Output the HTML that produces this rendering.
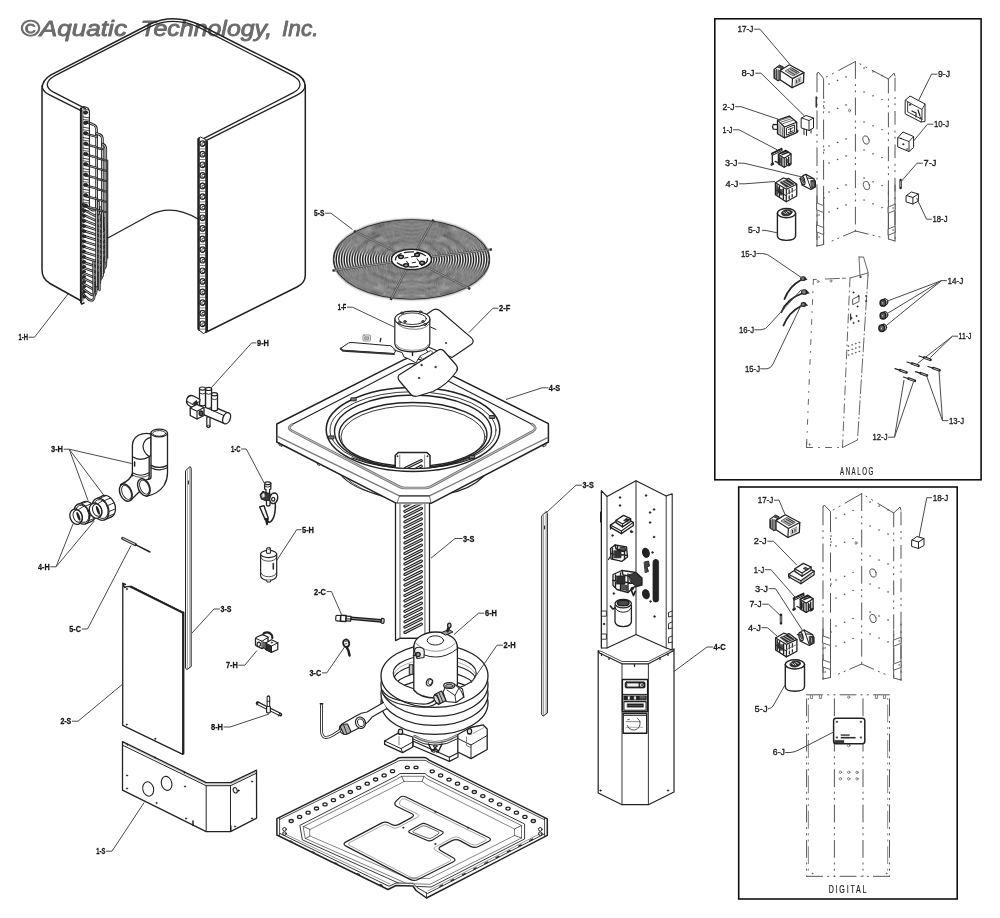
<!DOCTYPE html>
<html lang="en"><head><meta charset="utf-8"><title>Aquatic Technology parts diagram</title>
<style>
html,body{margin:0;padding:0;background:#fff;}
body{width:1000px;height:918px;overflow:hidden;}
svg{display:block;will-change:transform;}
text{font-family:"Liberation Sans",sans-serif;}
.ttl{font-size:22px;font-style:italic;font-weight:normal;fill:#6b6b6b;stroke:#6b6b6b;stroke-width:0.85px;}
.lb{font-size:9.8px;font-weight:bold;fill:#161616;stroke:#161616;stroke-width:0.3px;}
.lj{font-size:9.7px;font-weight:normal;fill:#1c1c1c;stroke:#1c1c1c;stroke-width:0.35px;}
.cap{font-size:10.4px;letter-spacing:2.6px;fill:#222;stroke:#222;stroke-width:0.2px;}
</style></head><body>
<svg width="1000" height="918" viewBox="0 0 1000 918" stroke-linecap="round" stroke-linejoin="round">
<rect x="0" y="0" width="1000" height="918" fill="#fff"/>
<text x="20.6" y="36.2" class="ttl" textLength="106.4" lengthAdjust="spacingAndGlyphs">©Aquatic</text>
<text x="140.6" y="36.2" class="ttl" textLength="131.5" lengthAdjust="spacingAndGlyphs">Technology,</text>
<text x="282" y="36.2" class="ttl" textLength="36.6" lengthAdjust="spacingAndGlyphs">Inc.</text>
<path d="M80.5,300.5 L50,283.5 Q42,279 42,270 L42,89 Q42,80 51,74.8 L150,24 Q174,12.8 200,25 L295,73 Q305.3,78 305.3,87 L305.3,275 Q305.3,283 297,287 L207.5,331.5" stroke="#222" stroke-width="1.5" fill="none" />
<path d="M42,86 Q42.5,91.5 48.5,94.3 L81.5,110.8" stroke="#222" stroke-width="1.4" fill="none" />
<path d="M85.5,108.6 L53.5,92.2 Q46.8,88.5 47.4,84 Q48,79.5 54,76.2 L150,26.8 Q174,15.6 200,27.8 L290.5,74.4 Q300.3,79.3 300,84.5 Q299.6,89.5 293.4,92.7 L203.5,138.7" stroke="#222" stroke-width="1.3" fill="none" />
<path d="M305.3,85 Q305,91.2 297.5,94.8 L205.5,140.8" stroke="#222" stroke-width="1.4" fill="none" />
<path d="M106,239 L150,215 Q172,203.5 198,219" stroke="#222" stroke-width="1.3" fill="none" />
<path d="M83,204.0 L91.6,209.7 Q96.6,211.5 96.6,206.5 L96.6,197.0" stroke="#1c1c1c" stroke-width="2.5" fill="none" />
<path d="M83,204.0 L91.6,209.7 Q96.6,211.5 96.6,206.5 L96.6,197.0" stroke="#cfcfcf" stroke-width="0.8999999999999999" fill="none" />
<path d="M83,209.3 L93.5,215.0 Q98.5,216.8 98.5,211.8 L98.5,202.3" stroke="#1c1c1c" stroke-width="2.5" fill="none" />
<path d="M83,209.3 L93.5,215.0 Q98.5,216.8 98.5,211.8 L98.5,202.3" stroke="#cfcfcf" stroke-width="0.8999999999999999" fill="none" />
<path d="M83,214.6 L95.5,220.3 Q100.5,222.1 100.5,217.1 L100.5,207.6" stroke="#1c1c1c" stroke-width="2.5" fill="none" />
<path d="M83,214.6 L95.5,220.3 Q100.5,222.1 100.5,217.1 L100.5,207.6" stroke="#cfcfcf" stroke-width="0.8999999999999999" fill="none" />
<path d="M83,219.9 L97.4,225.6 Q102.4,227.4 102.4,222.4 L102.4,212.9" stroke="#1c1c1c" stroke-width="2.5" fill="none" />
<path d="M83,219.9 L97.4,225.6 Q102.4,227.4 102.4,222.4 L102.4,212.9" stroke="#cfcfcf" stroke-width="0.8999999999999999" fill="none" />
<path d="M83,225.2 L99.3,230.9 Q104.3,232.7 104.3,227.7 L104.3,218.2" stroke="#1c1c1c" stroke-width="2.5" fill="none" />
<path d="M83,225.2 L99.3,230.9 Q104.3,232.7 104.3,227.7 L104.3,218.2" stroke="#cfcfcf" stroke-width="0.8999999999999999" fill="none" />
<path d="M83,230.5 L101.0,236.2 Q106.0,238.0 106.0,233.0 L106.0,223.5" stroke="#1c1c1c" stroke-width="2.5" fill="none" />
<path d="M83,230.5 L101.0,236.2 Q106.0,238.0 106.0,233.0 L106.0,223.5" stroke="#cfcfcf" stroke-width="0.8999999999999999" fill="none" />
<path d="M83,235.8 L101.0,241.5 Q106.0,243.3 106.0,238.3 L106.0,228.8" stroke="#1c1c1c" stroke-width="2.5" fill="none" />
<path d="M83,235.8 L101.0,241.5 Q106.0,243.3 106.0,238.3 L106.0,228.8" stroke="#cfcfcf" stroke-width="0.8999999999999999" fill="none" />
<path d="M83,241.1 L101.0,246.8 Q106.0,248.6 106.0,243.6 L106.0,234.1" stroke="#1c1c1c" stroke-width="2.5" fill="none" />
<path d="M83,241.1 L101.0,246.8 Q106.0,248.6 106.0,243.6 L106.0,234.1" stroke="#cfcfcf" stroke-width="0.8999999999999999" fill="none" />
<path d="M83,246.4 L101.0,252.1 Q106.0,253.9 106.0,248.9 L106.0,239.4" stroke="#1c1c1c" stroke-width="2.5" fill="none" />
<path d="M83,246.4 L101.0,252.1 Q106.0,253.9 106.0,248.9 L106.0,239.4" stroke="#cfcfcf" stroke-width="0.8999999999999999" fill="none" />
<path d="M83,251.7 L101.0,257.4 Q106.0,259.2 106.0,254.2 L106.0,244.7" stroke="#1c1c1c" stroke-width="2.5" fill="none" />
<path d="M83,251.7 L101.0,257.4 Q106.0,259.2 106.0,254.2 L106.0,244.7" stroke="#cfcfcf" stroke-width="0.8999999999999999" fill="none" />
<path d="M83,257.0 L101.0,262.7 Q106.0,264.5 106.0,259.5 L106.0,250.0" stroke="#1c1c1c" stroke-width="2.5" fill="none" />
<path d="M83,257.0 L101.0,262.7 Q106.0,264.5 106.0,259.5 L106.0,250.0" stroke="#cfcfcf" stroke-width="0.8999999999999999" fill="none" />
<path d="M83,262.3 L100.9,268.0 Q105.9,269.8 105.9,264.8 L105.9,255.3" stroke="#1c1c1c" stroke-width="2.5" fill="none" />
<path d="M83,262.3 L100.9,268.0 Q105.9,269.8 105.9,264.8 L105.9,255.3" stroke="#cfcfcf" stroke-width="0.8999999999999999" fill="none" />
<path d="M83,267.6 L98.9,273.3 Q103.9,275.1 103.9,270.1 L103.9,260.6" stroke="#1c1c1c" stroke-width="2.5" fill="none" />
<path d="M83,267.6 L98.9,273.3 Q103.9,275.1 103.9,270.1 L103.9,260.6" stroke="#cfcfcf" stroke-width="0.8999999999999999" fill="none" />
<path d="M83,272.9 L97.0,278.6 Q102.0,280.4 102.0,275.4 L102.0,265.9" stroke="#1c1c1c" stroke-width="2.5" fill="none" />
<path d="M83,272.9 L97.0,278.6 Q102.0,280.4 102.0,275.4 L102.0,265.9" stroke="#cfcfcf" stroke-width="0.8999999999999999" fill="none" />
<path d="M83,278.2 L95.1,283.9 Q100.1,285.7 100.1,280.7 L100.1,271.2" stroke="#1c1c1c" stroke-width="2.5" fill="none" />
<path d="M83,278.2 L95.1,283.9 Q100.1,285.7 100.1,280.7 L100.1,271.2" stroke="#cfcfcf" stroke-width="0.8999999999999999" fill="none" />
<path d="M83,283.5 L93.1,289.2 Q98.1,291.0 98.1,286.0 L98.1,276.5" stroke="#1c1c1c" stroke-width="2.5" fill="none" />
<path d="M83,283.5 L93.1,289.2 Q98.1,291.0 98.1,286.0 L98.1,276.5" stroke="#cfcfcf" stroke-width="0.8999999999999999" fill="none" />
<path d="M83,288.8 L91.2,294.5 Q96.2,296.3 96.2,291.3 L96.2,281.8" stroke="#1c1c1c" stroke-width="2.5" fill="none" />
<path d="M83,288.8 L91.2,294.5 Q96.2,296.3 96.2,291.3 L96.2,281.8" stroke="#cfcfcf" stroke-width="0.8999999999999999" fill="none" />
<path d="M83,294.1 L89.2,299.8 Q94.2,301.6 94.2,296.6 L94.2,287.1" stroke="#1c1c1c" stroke-width="2.5" fill="none" />
<path d="M83,294.1 L89.2,299.8 Q94.2,301.6 94.2,296.6 L94.2,287.1" stroke="#cfcfcf" stroke-width="0.8999999999999999" fill="none" />
<path d="M86.5,122 L93,124.5 Q96.6,125.5 96.6,130 L96.6,286" stroke="#1c1c1c" stroke-width="2.6" fill="none" />
<path d="M86.5,122 L93,124.5 Q96.6,125.5 96.6,130 L96.6,286" stroke="#cfcfcf" stroke-width="1.0" fill="none" />
<path d="M96.6,133.5 L99.5,134.5 Q102.4,135.5 102.4,139 L102.4,276" stroke="#1c1c1c" stroke-width="2.6" fill="none" />
<path d="M96.6,133.5 L99.5,134.5 Q102.4,135.5 102.4,139 L102.4,276" stroke="#cfcfcf" stroke-width="1.0" fill="none" />
<path d="M102.4,144 Q105.8,145 105.8,149 L105.8,262" stroke="#1c1c1c" stroke-width="2.6" fill="none" />
<path d="M102.4,144 Q105.8,145 105.8,149 L105.8,262" stroke="#cfcfcf" stroke-width="1.0" fill="none" />
<line x1="107.7" y1="160" x2="107.7" y2="258" stroke="#222" stroke-width="1.1" />
<path d="M99.5,215 L99.5,290" stroke="#1c1c1c" stroke-width="2.3" fill="none" />
<path d="M99.5,215 L99.5,290" stroke="#cfcfcf" stroke-width="0.6999999999999997" fill="none" />
<path d="M93.5,262 L93.5,293" stroke="#1c1c1c" stroke-width="2.3" fill="none" />
<path d="M93.5,262 L93.5,293" stroke="#cfcfcf" stroke-width="0.6999999999999997" fill="none" />
<path d="M86.5,134.2 L96.6,136.7" stroke="#1c1c1c" stroke-width="2.3" fill="none" />
<path d="M86.5,134.2 L96.6,136.7" stroke="#cfcfcf" stroke-width="0.6999999999999997" fill="none" />
<path d="M86.5,144.6 L96.6,147.1" stroke="#1c1c1c" stroke-width="2.3" fill="none" />
<path d="M86.5,144.6 L96.6,147.1" stroke="#cfcfcf" stroke-width="0.6999999999999997" fill="none" />
<path d="M97.8,148.1 L102.4,149.1" stroke="#1c1c1c" stroke-width="2.1" fill="none" />
<path d="M97.8,148.1 L102.4,149.1" stroke="#cfcfcf" stroke-width="0.5" fill="none" />
<path d="M86.5,154.9 L96.6,157.4" stroke="#1c1c1c" stroke-width="2.3" fill="none" />
<path d="M86.5,154.9 L96.6,157.4" stroke="#cfcfcf" stroke-width="0.6999999999999997" fill="none" />
<path d="M97.8,158.4 L102.4,159.4" stroke="#1c1c1c" stroke-width="2.1" fill="none" />
<path d="M97.8,158.4 L102.4,159.4" stroke="#cfcfcf" stroke-width="0.5" fill="none" />
<path d="M103.4,159.9 L105.8,160.4" stroke="#1c1c1c" stroke-width="2.0" fill="none" />
<path d="M103.4,159.9 L105.8,160.4" stroke="#cfcfcf" stroke-width="0.3999999999999999" fill="none" />
<path d="M86.5,165.2 L96.6,167.8" stroke="#1c1c1c" stroke-width="2.3" fill="none" />
<path d="M86.5,165.2 L96.6,167.8" stroke="#cfcfcf" stroke-width="0.6999999999999997" fill="none" />
<path d="M97.8,168.8 L102.4,169.8" stroke="#1c1c1c" stroke-width="2.1" fill="none" />
<path d="M97.8,168.8 L102.4,169.8" stroke="#cfcfcf" stroke-width="0.5" fill="none" />
<path d="M103.4,170.2 L105.8,170.8" stroke="#1c1c1c" stroke-width="2.0" fill="none" />
<path d="M103.4,170.2 L105.8,170.8" stroke="#cfcfcf" stroke-width="0.3999999999999999" fill="none" />
<path d="M86.5,175.6 L96.6,178.1" stroke="#1c1c1c" stroke-width="2.3" fill="none" />
<path d="M86.5,175.6 L96.6,178.1" stroke="#cfcfcf" stroke-width="0.6999999999999997" fill="none" />
<path d="M97.8,179.1 L102.4,180.1" stroke="#1c1c1c" stroke-width="2.1" fill="none" />
<path d="M97.8,179.1 L102.4,180.1" stroke="#cfcfcf" stroke-width="0.5" fill="none" />
<path d="M103.4,180.6 L105.8,181.1" stroke="#1c1c1c" stroke-width="2.0" fill="none" />
<path d="M103.4,180.6 L105.8,181.1" stroke="#cfcfcf" stroke-width="0.3999999999999999" fill="none" />
<path d="M86.5,185.9 L96.6,188.4" stroke="#1c1c1c" stroke-width="2.3" fill="none" />
<path d="M86.5,185.9 L96.6,188.4" stroke="#cfcfcf" stroke-width="0.6999999999999997" fill="none" />
<path d="M97.8,189.4 L102.4,190.4" stroke="#1c1c1c" stroke-width="2.1" fill="none" />
<path d="M97.8,189.4 L102.4,190.4" stroke="#cfcfcf" stroke-width="0.5" fill="none" />
<path d="M103.4,190.9 L105.8,191.4" stroke="#1c1c1c" stroke-width="2.0" fill="none" />
<path d="M103.4,190.9 L105.8,191.4" stroke="#cfcfcf" stroke-width="0.3999999999999999" fill="none" />
<path d="M86.5,196.3 L96.6,198.8" stroke="#1c1c1c" stroke-width="2.3" fill="none" />
<path d="M86.5,196.3 L96.6,198.8" stroke="#cfcfcf" stroke-width="0.6999999999999997" fill="none" />
<path d="M97.8,199.8 L102.4,200.8" stroke="#1c1c1c" stroke-width="2.1" fill="none" />
<path d="M97.8,199.8 L102.4,200.8" stroke="#cfcfcf" stroke-width="0.5" fill="none" />
<path d="M103.4,201.3 L105.8,201.8" stroke="#1c1c1c" stroke-width="2.0" fill="none" />
<path d="M103.4,201.3 L105.8,201.8" stroke="#cfcfcf" stroke-width="0.3999999999999999" fill="none" />
<path d="M86.5,206.6 L96.6,209.1" stroke="#1c1c1c" stroke-width="2.3" fill="none" />
<path d="M86.5,206.6 L96.6,209.1" stroke="#cfcfcf" stroke-width="0.6999999999999997" fill="none" />
<path d="M97.8,210.1 L102.4,211.1" stroke="#1c1c1c" stroke-width="2.1" fill="none" />
<path d="M97.8,210.1 L102.4,211.1" stroke="#cfcfcf" stroke-width="0.5" fill="none" />
<path d="M103.4,211.6 L105.8,212.1" stroke="#1c1c1c" stroke-width="2.0" fill="none" />
<path d="M103.4,211.6 L105.8,212.1" stroke="#cfcfcf" stroke-width="0.3999999999999999" fill="none" />
<line x1="80.9" y1="108.5" x2="80.9" y2="302" stroke="#1c1c1c" stroke-width="2.0" />
<line x1="82.9" y1="110" x2="82.9" y2="301" stroke="#222" stroke-width="0.9" />
<line x1="89.4" y1="111" x2="89.4" y2="207" stroke="#222" stroke-width="1.1" />
<path d="M80.5,109 L84,106.5 L88,108 L89.4,111" stroke="#222" stroke-width="1.2" fill="none" />
<ellipse cx="85.6" cy="112.5" rx="2.1" ry="1.7" stroke="#1c1c1c" stroke-width="0.8" fill="#2a2a2a" />
<path d="M83.2,116.9 L89,117.9" stroke="#222" stroke-width="0.9" fill="none" />
<path d="M83.2,109.1 L89,109.9" stroke="#222" stroke-width="0.7" fill="none" />
<ellipse cx="85.6" cy="122.8" rx="2.1" ry="1.7" stroke="#1c1c1c" stroke-width="0.8" fill="#2a2a2a" />
<path d="M83.2,127.2 L89,128.2" stroke="#222" stroke-width="0.9" fill="none" />
<path d="M83.2,119.4 L89,120.2" stroke="#222" stroke-width="0.7" fill="none" />
<ellipse cx="85.6" cy="133.2" rx="2.1" ry="1.7" stroke="#1c1c1c" stroke-width="0.8" fill="#2a2a2a" />
<path d="M83.2,137.6 L89,138.6" stroke="#222" stroke-width="0.9" fill="none" />
<path d="M83.2,129.8 L89,130.6" stroke="#222" stroke-width="0.7" fill="none" />
<ellipse cx="85.6" cy="143.6" rx="2.1" ry="1.7" stroke="#1c1c1c" stroke-width="0.8" fill="#2a2a2a" />
<path d="M83.2,148.0 L89,149.0" stroke="#222" stroke-width="0.9" fill="none" />
<path d="M83.2,140.2 L89,141.0" stroke="#222" stroke-width="0.7" fill="none" />
<ellipse cx="85.6" cy="153.9" rx="2.1" ry="1.7" stroke="#1c1c1c" stroke-width="0.8" fill="#2a2a2a" />
<path d="M83.2,158.3 L89,159.3" stroke="#222" stroke-width="0.9" fill="none" />
<path d="M83.2,150.5 L89,151.3" stroke="#222" stroke-width="0.7" fill="none" />
<ellipse cx="85.6" cy="164.2" rx="2.1" ry="1.7" stroke="#1c1c1c" stroke-width="0.8" fill="#2a2a2a" />
<path d="M83.2,168.7 L89,169.7" stroke="#222" stroke-width="0.9" fill="none" />
<path d="M83.2,160.8 L89,161.7" stroke="#222" stroke-width="0.7" fill="none" />
<ellipse cx="85.6" cy="174.6" rx="2.1" ry="1.7" stroke="#1c1c1c" stroke-width="0.8" fill="#2a2a2a" />
<path d="M83.2,179.0 L89,180.0" stroke="#222" stroke-width="0.9" fill="none" />
<path d="M83.2,171.2 L89,172.0" stroke="#222" stroke-width="0.7" fill="none" />
<ellipse cx="85.6" cy="184.9" rx="2.1" ry="1.7" stroke="#1c1c1c" stroke-width="0.8" fill="#2a2a2a" />
<path d="M83.2,189.3 L89,190.3" stroke="#222" stroke-width="0.9" fill="none" />
<path d="M83.2,181.5 L89,182.3" stroke="#222" stroke-width="0.7" fill="none" />
<ellipse cx="85.6" cy="195.3" rx="2.1" ry="1.7" stroke="#1c1c1c" stroke-width="0.8" fill="#2a2a2a" />
<path d="M83.2,199.7 L89,200.7" stroke="#222" stroke-width="0.9" fill="none" />
<path d="M83.2,191.9 L89,192.7" stroke="#222" stroke-width="0.7" fill="none" />
<ellipse cx="85.6" cy="205.6" rx="2.1" ry="1.7" stroke="#1c1c1c" stroke-width="0.8" fill="#2a2a2a" />
<path d="M83.2,210.0 L89,211.0" stroke="#222" stroke-width="0.9" fill="none" />
<path d="M83.2,202.2 L89,203.0" stroke="#222" stroke-width="0.7" fill="none" />
<ellipse cx="84.1" cy="206.0" rx="1.5" ry="1.3" stroke="#1c1c1c" stroke-width="0.7" fill="#2a2a2a" />
<ellipse cx="84.1" cy="211.1" rx="1.5" ry="1.3" stroke="#1c1c1c" stroke-width="0.7" fill="#2a2a2a" />
<ellipse cx="84.1" cy="216.1" rx="1.5" ry="1.3" stroke="#1c1c1c" stroke-width="0.7" fill="#2a2a2a" />
<ellipse cx="84.1" cy="221.2" rx="1.5" ry="1.3" stroke="#1c1c1c" stroke-width="0.7" fill="#2a2a2a" />
<ellipse cx="84.1" cy="226.2" rx="1.5" ry="1.3" stroke="#1c1c1c" stroke-width="0.7" fill="#2a2a2a" />
<ellipse cx="84.1" cy="231.2" rx="1.5" ry="1.3" stroke="#1c1c1c" stroke-width="0.7" fill="#2a2a2a" />
<ellipse cx="84.1" cy="236.3" rx="1.5" ry="1.3" stroke="#1c1c1c" stroke-width="0.7" fill="#2a2a2a" />
<ellipse cx="84.1" cy="241.3" rx="1.5" ry="1.3" stroke="#1c1c1c" stroke-width="0.7" fill="#2a2a2a" />
<ellipse cx="84.1" cy="246.4" rx="1.5" ry="1.3" stroke="#1c1c1c" stroke-width="0.7" fill="#2a2a2a" />
<ellipse cx="84.1" cy="251.4" rx="1.5" ry="1.3" stroke="#1c1c1c" stroke-width="0.7" fill="#2a2a2a" />
<ellipse cx="84.1" cy="256.5" rx="1.5" ry="1.3" stroke="#1c1c1c" stroke-width="0.7" fill="#2a2a2a" />
<ellipse cx="84.1" cy="261.6" rx="1.5" ry="1.3" stroke="#1c1c1c" stroke-width="0.7" fill="#2a2a2a" />
<ellipse cx="84.1" cy="266.6" rx="1.5" ry="1.3" stroke="#1c1c1c" stroke-width="0.7" fill="#2a2a2a" />
<ellipse cx="84.1" cy="271.6" rx="1.5" ry="1.3" stroke="#1c1c1c" stroke-width="0.7" fill="#2a2a2a" />
<ellipse cx="84.1" cy="276.7" rx="1.5" ry="1.3" stroke="#1c1c1c" stroke-width="0.7" fill="#2a2a2a" />
<ellipse cx="84.1" cy="281.8" rx="1.5" ry="1.3" stroke="#1c1c1c" stroke-width="0.7" fill="#2a2a2a" />
<ellipse cx="84.1" cy="286.8" rx="1.5" ry="1.3" stroke="#1c1c1c" stroke-width="0.7" fill="#2a2a2a" />
<ellipse cx="84.1" cy="291.9" rx="1.5" ry="1.3" stroke="#1c1c1c" stroke-width="0.7" fill="#2a2a2a" />
<ellipse cx="84.1" cy="296.9" rx="1.5" ry="1.3" stroke="#1c1c1c" stroke-width="0.7" fill="#2a2a2a" />
<path d="M80.5,300.5 L81.5,304 L84,303" stroke="#222" stroke-width="1.4" fill="none" />
<path d="M198.2,138.5 L200.5,137 L204,138.6 L207.5,141.5 L207.5,331.5 L203.5,333.5 L198.2,329.5 Z" stroke="#222" stroke-width="1.0" fill="#fff" />
<line x1="198.8" y1="138.5" x2="198.8" y2="329.5" stroke="#222" stroke-width="2.0" />
<line x1="206.4" y1="141" x2="206.4" y2="331.5" stroke="#222" stroke-width="2.4" />
<ellipse cx="202.5" cy="143.6" rx="2.5" ry="2.8" stroke="#222" stroke-width="1.2" fill="#fff" />
<path d="M203.6,142.6 A1.3,1.5 0 1 0 204.3,144.8" stroke="#222" stroke-width="1.0" fill="none" />
<line x1="200" y1="148.9" x2="205" y2="148.9" stroke="#444" stroke-width="0.7" />
<ellipse cx="202.5" cy="154.2" rx="2.5" ry="2.8" stroke="#222" stroke-width="1.2" fill="#fff" />
<path d="M203.6,153.2 A1.3,1.5 0 1 0 204.3,155.4" stroke="#222" stroke-width="1.0" fill="none" />
<line x1="200" y1="159.5" x2="205" y2="159.5" stroke="#444" stroke-width="0.7" />
<ellipse cx="202.5" cy="164.8" rx="2.5" ry="2.8" stroke="#222" stroke-width="1.2" fill="#fff" />
<path d="M203.6,163.8 A1.3,1.5 0 1 0 204.3,166.0" stroke="#222" stroke-width="1.0" fill="none" />
<line x1="200" y1="170.1" x2="205" y2="170.1" stroke="#444" stroke-width="0.7" />
<ellipse cx="202.5" cy="175.4" rx="2.5" ry="2.8" stroke="#222" stroke-width="1.2" fill="#fff" />
<path d="M203.6,174.4 A1.3,1.5 0 1 0 204.3,176.6" stroke="#222" stroke-width="1.0" fill="none" />
<line x1="200" y1="180.7" x2="205" y2="180.7" stroke="#444" stroke-width="0.7" />
<ellipse cx="202.5" cy="186.0" rx="2.5" ry="2.8" stroke="#222" stroke-width="1.2" fill="#fff" />
<path d="M203.6,185.0 A1.3,1.5 0 1 0 204.3,187.2" stroke="#222" stroke-width="1.0" fill="none" />
<line x1="200" y1="191.3" x2="205" y2="191.3" stroke="#444" stroke-width="0.7" />
<ellipse cx="202.5" cy="196.6" rx="2.5" ry="2.8" stroke="#222" stroke-width="1.2" fill="#fff" />
<path d="M203.6,195.6 A1.3,1.5 0 1 0 204.3,197.8" stroke="#222" stroke-width="1.0" fill="none" />
<line x1="200" y1="201.9" x2="205" y2="201.9" stroke="#444" stroke-width="0.7" />
<ellipse cx="202.5" cy="207.2" rx="2.5" ry="2.8" stroke="#222" stroke-width="1.2" fill="#fff" />
<path d="M203.6,206.2 A1.3,1.5 0 1 0 204.3,208.4" stroke="#222" stroke-width="1.0" fill="none" />
<line x1="200" y1="212.5" x2="205" y2="212.5" stroke="#444" stroke-width="0.7" />
<ellipse cx="202.5" cy="217.8" rx="2.5" ry="2.8" stroke="#222" stroke-width="1.2" fill="#fff" />
<path d="M203.6,216.8 A1.3,1.5 0 1 0 204.3,219.0" stroke="#222" stroke-width="1.0" fill="none" />
<line x1="200" y1="223.1" x2="205" y2="223.1" stroke="#444" stroke-width="0.7" />
<ellipse cx="202.5" cy="228.4" rx="2.5" ry="2.8" stroke="#222" stroke-width="1.2" fill="#fff" />
<path d="M203.6,227.4 A1.3,1.5 0 1 0 204.3,229.6" stroke="#222" stroke-width="1.0" fill="none" />
<line x1="200" y1="233.7" x2="205" y2="233.7" stroke="#444" stroke-width="0.7" />
<ellipse cx="202.5" cy="239.0" rx="2.5" ry="2.8" stroke="#222" stroke-width="1.2" fill="#fff" />
<path d="M203.6,238.0 A1.3,1.5 0 1 0 204.3,240.2" stroke="#222" stroke-width="1.0" fill="none" />
<line x1="200" y1="244.3" x2="205" y2="244.3" stroke="#444" stroke-width="0.7" />
<ellipse cx="202.5" cy="249.6" rx="2.5" ry="2.8" stroke="#222" stroke-width="1.2" fill="#fff" />
<path d="M203.6,248.6 A1.3,1.5 0 1 0 204.3,250.8" stroke="#222" stroke-width="1.0" fill="none" />
<line x1="200" y1="254.9" x2="205" y2="254.9" stroke="#444" stroke-width="0.7" />
<ellipse cx="202.5" cy="260.2" rx="2.5" ry="2.8" stroke="#222" stroke-width="1.2" fill="#fff" />
<path d="M203.6,259.2 A1.3,1.5 0 1 0 204.3,261.4" stroke="#222" stroke-width="1.0" fill="none" />
<line x1="200" y1="265.5" x2="205" y2="265.5" stroke="#444" stroke-width="0.7" />
<ellipse cx="202.5" cy="270.8" rx="2.5" ry="2.8" stroke="#222" stroke-width="1.2" fill="#fff" />
<path d="M203.6,269.8 A1.3,1.5 0 1 0 204.3,272.0" stroke="#222" stroke-width="1.0" fill="none" />
<line x1="200" y1="276.1" x2="205" y2="276.1" stroke="#444" stroke-width="0.7" />
<ellipse cx="202.5" cy="281.4" rx="2.5" ry="2.8" stroke="#222" stroke-width="1.2" fill="#fff" />
<path d="M203.6,280.4 A1.3,1.5 0 1 0 204.3,282.6" stroke="#222" stroke-width="1.0" fill="none" />
<line x1="200" y1="286.7" x2="205" y2="286.7" stroke="#444" stroke-width="0.7" />
<ellipse cx="202.5" cy="292.0" rx="2.5" ry="2.8" stroke="#222" stroke-width="1.2" fill="#fff" />
<path d="M203.6,291.0 A1.3,1.5 0 1 0 204.3,293.2" stroke="#222" stroke-width="1.0" fill="none" />
<line x1="200" y1="297.3" x2="205" y2="297.3" stroke="#444" stroke-width="0.7" />
<ellipse cx="202.5" cy="302.6" rx="2.5" ry="2.8" stroke="#222" stroke-width="1.2" fill="#fff" />
<path d="M203.6,301.6 A1.3,1.5 0 1 0 204.3,303.8" stroke="#222" stroke-width="1.0" fill="none" />
<line x1="200" y1="307.9" x2="205" y2="307.9" stroke="#444" stroke-width="0.7" />
<ellipse cx="202.5" cy="313.2" rx="2.5" ry="2.8" stroke="#222" stroke-width="1.2" fill="#fff" />
<path d="M203.6,312.2 A1.3,1.5 0 1 0 204.3,314.4" stroke="#222" stroke-width="1.0" fill="none" />
<line x1="200" y1="318.5" x2="205" y2="318.5" stroke="#444" stroke-width="0.7" />
<ellipse cx="202.5" cy="323.8" rx="2.5" ry="2.8" stroke="#222" stroke-width="1.2" fill="#fff" />
<path d="M203.6,322.8 A1.3,1.5 0 1 0 204.3,325.0" stroke="#222" stroke-width="1.0" fill="none" />
<line x1="200" y1="329.1" x2="205" y2="329.1" stroke="#444" stroke-width="0.7" />
<text class="lb" x="18.5" y="340.1" textLength="9.5" lengthAdjust="spacingAndGlyphs">1-H</text>
<path d="M28.6,337.2 L34.5,337.2 L68,294" stroke="#4a4a4a" stroke-width="1.0" fill="none" stroke-linecap="butt"/>
<ellipse cx="411.5" cy="259.4" rx="78" ry="39.8" stroke="none" stroke-width="0.5" fill="#fff" />
<filter id="fb" x="-5%" y="-5%" width="110%" height="110%"><feGaussianBlur stdDeviation="0.2 0.8"/></filter>
<g filter="url(#fb)">
<g transform="translate(411.5 259.4) scale(1 0.5103)" fill="none" stroke="#1c1c1c" stroke-width="1.45">
<circle cx="0" cy="0" r="20.00"/>
<circle cx="0" cy="0" r="22.64"/>
<circle cx="0" cy="0" r="25.27"/>
<circle cx="0" cy="0" r="27.91"/>
<circle cx="0" cy="0" r="30.55"/>
<circle cx="0" cy="0" r="33.18"/>
<circle cx="0" cy="0" r="35.82"/>
<circle cx="0" cy="0" r="38.45"/>
<circle cx="0" cy="0" r="41.09"/>
<circle cx="0" cy="0" r="43.73"/>
<circle cx="0" cy="0" r="46.36"/>
<circle cx="0" cy="0" r="49.00"/>
<circle cx="0" cy="0" r="51.64"/>
<circle cx="0" cy="0" r="54.27"/>
<circle cx="0" cy="0" r="56.91"/>
<circle cx="0" cy="0" r="59.55"/>
<circle cx="0" cy="0" r="62.18"/>
<circle cx="0" cy="0" r="64.82"/>
<circle cx="0" cy="0" r="67.45"/>
<circle cx="0" cy="0" r="70.09"/>
<circle cx="0" cy="0" r="72.73"/>
<circle cx="0" cy="0" r="75.36"/>
<circle cx="0" cy="0" r="78.00"/>
</g></g>
<ellipse cx="411.5" cy="259.4" rx="78" ry="39.8" stroke="#333" stroke-width="1.0" fill="none" />
<line x1="397.1" y1="252.3" x2="355.2" y2="231.7" stroke="#4a4a4a" stroke-width="2.0" />
<line x1="397.1" y1="252.3" x2="356.1" y2="232.1" stroke="#a8a8a8" stroke-width="0.8" />
<line x1="355.7" y1="231.9" x2="353.9" y2="231" stroke="#333" stroke-width="2.3" stroke-linecap="butt"/>
<line x1="416.9" y1="249.6" x2="432.8" y2="220.9" stroke="#4a4a4a" stroke-width="2.0" />
<line x1="416.9" y1="249.6" x2="432.3" y2="221.8" stroke="#a8a8a8" stroke-width="0.8" />
<line x1="432.5" y1="221.4" x2="433.5" y2="219.6" stroke="#333" stroke-width="2.3" stroke-linecap="butt"/>
<line x1="430.9" y1="257.0" x2="490.5" y2="249.6" stroke="#4a4a4a" stroke-width="2.0" />
<line x1="430.9" y1="257.0" x2="489.5" y2="249.7" stroke="#a8a8a8" stroke-width="0.8" />
<line x1="490.0" y1="249.6" x2="492" y2="249.4" stroke="#333" stroke-width="2.3" stroke-linecap="butt"/>
<line x1="425.7" y1="266.6" x2="469.0" y2="288.3" stroke="#4a4a4a" stroke-width="2.0" />
<line x1="425.7" y1="266.6" x2="468.1" y2="287.9" stroke="#a8a8a8" stroke-width="0.8" />
<line x1="468.5" y1="288.1" x2="470.3" y2="289" stroke="#333" stroke-width="2.3" stroke-linecap="butt"/>
<line x1="406.4" y1="269.3" x2="391.3" y2="298.7" stroke="#4a4a4a" stroke-width="2.0" />
<line x1="406.4" y1="269.3" x2="391.7" y2="297.8" stroke="#a8a8a8" stroke-width="0.8" />
<line x1="391.5" y1="298.2" x2="390.6" y2="300" stroke="#333" stroke-width="2.3" stroke-linecap="butt"/>
<line x1="392.2" y1="262.2" x2="333.9" y2="270.5" stroke="#4a4a4a" stroke-width="2.0" />
<line x1="392.2" y1="262.2" x2="334.9" y2="270.3" stroke="#a8a8a8" stroke-width="0.8" />
<line x1="334.4" y1="270.4" x2="332.4" y2="270.7" stroke="#333" stroke-width="2.3" stroke-linecap="butt"/>
<ellipse cx="411.5" cy="259.4" rx="20" ry="10.2" stroke="#222" stroke-width="1.5" fill="#fff" />
<ellipse cx="411.5" cy="259.4" rx="16" ry="7.6" stroke="#222" stroke-width="1.3" fill="none" stroke-dasharray="9 3.5"/>
<ellipse cx="401.0" cy="256.79999999999995" rx="2.4" ry="1.6" stroke="#1a1a1a" stroke-width="1.5" fill="#aaa" />
<ellipse cx="417.1" cy="254.79999999999998" rx="2.4" ry="1.6" stroke="#1a1a1a" stroke-width="1.5" fill="#aaa" />
<ellipse cx="422.1" cy="262.79999999999995" rx="2.4" ry="1.6" stroke="#1a1a1a" stroke-width="1.5" fill="#aaa" />
<ellipse cx="406.1" cy="265.29999999999995" rx="2.4" ry="1.6" stroke="#1a1a1a" stroke-width="1.5" fill="#aaa" />
<path d="M404.5,258.0 L415.1,256.2 L419.1,261.59999999999997 L408.1,263.59999999999997 Z" stroke="#222" stroke-width="1.0" fill="none" stroke-dasharray="3.5 3.5"/>
<text class="lb" x="314" y="216.1" textLength="10.3" lengthAdjust="spacingAndGlyphs">5-S</text>
<path d="M324.9,213.2 L331,213.2 L352.5,229.5" stroke="#4a4a4a" stroke-width="1.0" fill="none" stroke-linecap="butt"/>
<path d="M340,474 Q352,489 384,496" stroke="#222" stroke-width="1.1" fill="none" />
<path d="M345,477 Q358,490 386,497.5" stroke="#222" stroke-width="0.8" fill="none" />
<path d="M446,494 Q470,490 484,476" stroke="#222" stroke-width="1.1" fill="none" />
<path d="M444,491.5 Q468,487 480,475" stroke="#222" stroke-width="0.8" fill="none" />
<path d="M276.8,424 L404,359.6 Q412,355.6 420,359.6 L548.4,423.6 L548.4,442 L431,503.3 L396.5,503.3 L276.8,442 Z" stroke="#222" stroke-width="1.5" fill="#fff" />
<path d="M277.5,436.4 L399.5,495.8 L429.5,495.8 L547.6,437.6" stroke="#7a7a7a" stroke-width="1.3" fill="none" />
<path d="M399.5,495.8 L429.5,495.8" stroke="#444" stroke-width="1.2" fill="none" />
<line x1="399.5" y1="496" x2="397" y2="503" stroke="#555" stroke-width="0.8" />
<line x1="429.5" y1="496" x2="431" y2="503" stroke="#555" stroke-width="0.8" />
<path d="M279,442.8 L279,445 L282,446.5 L282,444.5" stroke="#222" stroke-width="0.9" fill="none" />
<path d="M546,443 L546,445.5 L543,447 L543,444.8" stroke="#222" stroke-width="0.9" fill="none" />
<path d="M317,462.5 L317.5,464.5 L319.5,465.5" stroke="#222" stroke-width="0.9" fill="none" />
<path d="M292,424.6 L407.5,364.8 Q412,362.5 416.5,364.8 L532,424.2" stroke="#222" stroke-width="1.1" fill="none" />
<path d="M292,424.6 Q286.5,427.6 291.5,430.6 L399,486.5 Q402,488 405,488 L425,488 Q428,488 431,486.5 L533,431.2 Q538,428 532,424.2" stroke="#777" stroke-width="2.7" fill="none" />
<path d="M292,424.6 Q286.5,427.6 291.5,430.6 L399,486.5 Q402,488 405,488 L425,488 Q428,488 431,486.5 L533,431.2 Q538,428 532,424.2" stroke="#c4c4c4" stroke-width="1.0" fill="none" />
<ellipse cx="413" cy="429.4" rx="86.8" ry="42" stroke="#222" stroke-width="1.5" fill="#fff" />
<ellipse cx="413" cy="430.2" rx="83" ry="38.5" stroke="#222" stroke-width="0.9" fill="none" />
<ellipse cx="413" cy="431.6" rx="78.5" ry="36.6" stroke="#222" stroke-width="1.4" fill="none" />
<clipPath id="cpv"><ellipse cx="413" cy="431.6" rx="78.5" ry="36.6"/></clipPath>
<g clip-path="url(#cpv)">
<ellipse cx="413" cy="434.5" rx="74" ry="32" stroke="#222" stroke-width="1.4" fill="none" />
<ellipse cx="413" cy="436.8" rx="72" ry="31" stroke="#222" stroke-width="0.9" fill="none" />
<path d="M395.2,470 L395.2,455.5 L398.2,452.5 L427,452.5 L430,455.5 L430,470" stroke="#222" stroke-width="1.5" fill="#fff" />
<line x1="399.7" y1="455" x2="399.7" y2="469" stroke="#999" stroke-width="1.2" />
<line x1="424.6" y1="455" x2="424.6" y2="469" stroke="#999" stroke-width="1.2" />
<ellipse cx="397.4" cy="456.2" rx="0.6" ry="0.6" stroke="#222" stroke-width="0.4" fill="#222" />
<ellipse cx="427.4" cy="456.2" rx="0.6" ry="0.6" stroke="#222" stroke-width="0.4" fill="#222" />
<path d="M405.6,468.2 L421.2,460.6" stroke="#1e1e1e" stroke-width="3.1" fill="none" />
<path d="M405.6,468.2 L421.2,460.6" stroke="#f4f4f4" stroke-width="0.9" fill="none" />
<path d="M414,470 L421.2,466.2" stroke="#1e1e1e" stroke-width="3.1" fill="none" />
<path d="M414,470 L421.2,466.2" stroke="#f4f4f4" stroke-width="0.9" fill="none" />
</g>
<path d="M352,458 Q380,468.6 413,468.6 Q446,468.6 474,458" stroke="#222" stroke-width="1.3" fill="none" />
<rect x="351.2" y="397.8" width="5" height="3" stroke="#222" stroke-width="0.9" fill="#777" />
<rect x="489.7" y="415.5" width="5" height="3" stroke="#222" stroke-width="0.9" fill="#777" />
<rect x="329.0" y="435.9" width="5" height="3" stroke="#222" stroke-width="0.9" fill="#777" />
<rect x="469.7" y="455.5" width="5" height="3" stroke="#222" stroke-width="0.9" fill="#777" />
<text class="lb" x="548.8" y="390.8" textLength="11.5" lengthAdjust="spacingAndGlyphs">4-S</text>
<path d="M548.4,387.8 L542,387.8 L506,399.5" stroke="#4a4a4a" stroke-width="1.0" fill="none" stroke-linecap="butt"/>
<path d="M424,316 L433,310 Q436.5,307.8 440,310.8 L471.2,337.6 Q475,341.2 471.5,344.3 L452,357.5 L424,345 Z" stroke="#222" stroke-width="1.2" fill="#fff" />
<path d="M340.5,348.5 L348.5,343 Q350,342.3 352,342.5 L391,345.8 L396,350.5 L394,353.5 L343,350.2 Z" stroke="#222" stroke-width="1.0" fill="#fff" />
<path d="M340.5,348.5 L343,350.8 L394,354.2" stroke="#333" stroke-width="1.8" fill="none" />
<path d="M394,350 L402,352.5 L404,357 L410,359.5 L416,363 L419,357.5 L428,352 L425,348" stroke="#222" stroke-width="1.0" fill="#fff" />
<path d="M394.8,319 L394.8,343 Q395,351.5 412.4,351.8 Q429.5,351.5 429.8,343 L429.8,319" stroke="#222" stroke-width="1.2" fill="#fff" />
<path d="M396.5,344.5 Q398,350 412.4,350.3 Q427,350 428.3,344.5" stroke="#666" stroke-width="0.7" fill="none" />
<ellipse cx="412.4" cy="319" rx="17.5" ry="7.8" stroke="#222" stroke-width="1.2" fill="#fff" />
<ellipse cx="412.4" cy="318.7" rx="14" ry="5.8" stroke="#222" stroke-width="0.9" fill="none" />
<path d="M397,323 Q401,329.5 416,329.3 Q426,328.8 429,324" stroke="#555" stroke-width="0.8" fill="none" />
<ellipse cx="399.5" cy="322.5" rx="1.4" ry="1.0" stroke="#222" stroke-width="0.8" fill="#777" />
<ellipse cx="405" cy="321.5" rx="1.4" ry="1.0" stroke="#222" stroke-width="0.8" fill="#777" />
<ellipse cx="423" cy="321.5" rx="1.4" ry="1.0" stroke="#222" stroke-width="0.8" fill="#777" />
<ellipse cx="425" cy="324.5" rx="1.4" ry="1.0" stroke="#222" stroke-width="0.8" fill="#777" />
<ellipse cx="402" cy="313" rx="1.4" ry="1.0" stroke="#222" stroke-width="0.8" fill="#777" />
<ellipse cx="420.5" cy="311.8" rx="1.4" ry="1.0" stroke="#222" stroke-width="0.8" fill="#777" />
<line x1="412.5" y1="352" x2="412.5" y2="355.5" stroke="#222" stroke-width="1.4" />
<line x1="430.5" y1="327" x2="436" y2="329.5" stroke="#222" stroke-width="1.0" />
<path d="M399,375 Q397,378 399.5,381 L411,394.5 Q413.5,397.2 418,396 L433,391.5 Q447,385 456.5,371.5 Q458.5,368.5 456.5,365.5 L444,351 Q441.5,348 438,350.2 Z" stroke="#222" stroke-width="1.2" fill="#fff" />
<ellipse cx="421.5" cy="365" rx="0.8" ry="0.8" stroke="#222" stroke-width="0.6" fill="#222" />
<ellipse cx="435.5" cy="367" rx="0.8" ry="0.8" stroke="#222" stroke-width="0.6" fill="#222" />
<ellipse cx="419" cy="378" rx="0.8" ry="0.8" stroke="#222" stroke-width="0.6" fill="#222" />
<ellipse cx="446" cy="343" rx="0.7" ry="0.7" stroke="#222" stroke-width="0.5" fill="#222" />
<path d="M420,356 L431,350.5 Q434,352 431.5,354 L423,359 Z" stroke="#222" stroke-width="0.8" fill="#fff" />
<rect x="363" y="335" width="7.5" height="6" stroke="#666" stroke-width="0.7" fill="none" rx="1"/>
<rect x="365" y="336.8" width="3.8" height="2.6" stroke="#555" stroke-width="0.6" fill="#bbb" />
<line x1="380.8" y1="338.5" x2="380.2" y2="341.5" stroke="#222" stroke-width="1.3" />
<text class="lb" x="337.8" y="310.1" textLength="8.5" lengthAdjust="spacingAndGlyphs">1-F</text>
<path d="M346.9,307.2 L352.5,307.2 L394.8,327.3" stroke="#4a4a4a" stroke-width="1.0" fill="none" stroke-linecap="butt"/>
<text class="lb" x="499" y="311.1" textLength="11.3" lengthAdjust="spacingAndGlyphs">2-F</text>
<path d="M498.4,308.2 L493,308.2 L469,332.5" stroke="#4a4a4a" stroke-width="1.0" fill="none" stroke-linecap="butt"/>
<path d="M395.5,503.5 L395.5,640.6 L400,638.4 L425,638.4 L429.5,640.6 L429.5,503.5" stroke="#222" stroke-width="1.3" fill="#fff" />
<line x1="400" y1="504.5" x2="400" y2="638.4" stroke="#8a8a8a" stroke-width="1.4" />
<line x1="424.9" y1="504.5" x2="424.9" y2="638.4" stroke="#8a8a8a" stroke-width="1.4" />
<line x1="400" y1="638.4" x2="425" y2="638.4" stroke="#222" stroke-width="1.2" />
<clipPath id="cpl"><rect x="401" y="504.6" width="23" height="133"/></clipPath>
<g clip-path="url(#cpl)">
<path d="M404.9,506.1 L421.4,497.8" stroke="#1e1e1e" stroke-width="3.1" fill="none" />
<path d="M404.9,506.1 L421.4,497.8" stroke="#f4f4f4" stroke-width="0.9" fill="none" />
<path d="M404.9,511.4 L421.4,503.1" stroke="#1e1e1e" stroke-width="3.1" fill="none" />
<path d="M404.9,511.4 L421.4,503.1" stroke="#f4f4f4" stroke-width="0.9" fill="none" />
<path d="M404.9,516.6 L421.4,508.3" stroke="#1e1e1e" stroke-width="3.1" fill="none" />
<path d="M404.9,516.6 L421.4,508.3" stroke="#f4f4f4" stroke-width="0.9" fill="none" />
<path d="M404.9,521.9 L421.4,513.6" stroke="#1e1e1e" stroke-width="3.1" fill="none" />
<path d="M404.9,521.9 L421.4,513.6" stroke="#f4f4f4" stroke-width="0.9" fill="none" />
<path d="M404.9,527.2 L421.4,518.9" stroke="#1e1e1e" stroke-width="3.1" fill="none" />
<path d="M404.9,527.2 L421.4,518.9" stroke="#f4f4f4" stroke-width="0.9" fill="none" />
<path d="M404.9,532.4 L421.4,524.1" stroke="#1e1e1e" stroke-width="3.1" fill="none" />
<path d="M404.9,532.4 L421.4,524.1" stroke="#f4f4f4" stroke-width="0.9" fill="none" />
<path d="M404.9,537.7 L421.4,529.4" stroke="#1e1e1e" stroke-width="3.1" fill="none" />
<path d="M404.9,537.7 L421.4,529.4" stroke="#f4f4f4" stroke-width="0.9" fill="none" />
<path d="M404.9,543.0 L421.4,534.7" stroke="#1e1e1e" stroke-width="3.1" fill="none" />
<path d="M404.9,543.0 L421.4,534.7" stroke="#f4f4f4" stroke-width="0.9" fill="none" />
<path d="M404.9,548.2 L421.4,539.9" stroke="#1e1e1e" stroke-width="3.1" fill="none" />
<path d="M404.9,548.2 L421.4,539.9" stroke="#f4f4f4" stroke-width="0.9" fill="none" />
<path d="M404.9,553.5 L421.4,545.2" stroke="#1e1e1e" stroke-width="3.1" fill="none" />
<path d="M404.9,553.5 L421.4,545.2" stroke="#f4f4f4" stroke-width="0.9" fill="none" />
<path d="M404.9,558.8 L421.4,550.5" stroke="#1e1e1e" stroke-width="3.1" fill="none" />
<path d="M404.9,558.8 L421.4,550.5" stroke="#f4f4f4" stroke-width="0.9" fill="none" />
<path d="M404.9,564.0 L421.4,555.7" stroke="#1e1e1e" stroke-width="3.1" fill="none" />
<path d="M404.9,564.0 L421.4,555.7" stroke="#f4f4f4" stroke-width="0.9" fill="none" />
<path d="M404.9,569.3 L421.4,561.0" stroke="#1e1e1e" stroke-width="3.1" fill="none" />
<path d="M404.9,569.3 L421.4,561.0" stroke="#f4f4f4" stroke-width="0.9" fill="none" />
<path d="M404.9,574.5 L421.4,566.2" stroke="#1e1e1e" stroke-width="3.1" fill="none" />
<path d="M404.9,574.5 L421.4,566.2" stroke="#f4f4f4" stroke-width="0.9" fill="none" />
<path d="M404.9,579.8 L421.4,571.5" stroke="#1e1e1e" stroke-width="3.1" fill="none" />
<path d="M404.9,579.8 L421.4,571.5" stroke="#f4f4f4" stroke-width="0.9" fill="none" />
<path d="M404.9,585.1 L421.4,576.8" stroke="#1e1e1e" stroke-width="3.1" fill="none" />
<path d="M404.9,585.1 L421.4,576.8" stroke="#f4f4f4" stroke-width="0.9" fill="none" />
<path d="M404.9,590.3 L421.4,582.0" stroke="#1e1e1e" stroke-width="3.1" fill="none" />
<path d="M404.9,590.3 L421.4,582.0" stroke="#f4f4f4" stroke-width="0.9" fill="none" />
<path d="M404.9,595.6 L421.4,587.3" stroke="#1e1e1e" stroke-width="3.1" fill="none" />
<path d="M404.9,595.6 L421.4,587.3" stroke="#f4f4f4" stroke-width="0.9" fill="none" />
<path d="M404.9,600.9 L421.4,592.6" stroke="#1e1e1e" stroke-width="3.1" fill="none" />
<path d="M404.9,600.9 L421.4,592.6" stroke="#f4f4f4" stroke-width="0.9" fill="none" />
<path d="M404.9,606.1 L421.4,597.8" stroke="#1e1e1e" stroke-width="3.1" fill="none" />
<path d="M404.9,606.1 L421.4,597.8" stroke="#f4f4f4" stroke-width="0.9" fill="none" />
<path d="M404.9,611.4 L421.4,603.1" stroke="#1e1e1e" stroke-width="3.1" fill="none" />
<path d="M404.9,611.4 L421.4,603.1" stroke="#f4f4f4" stroke-width="0.9" fill="none" />
<path d="M404.9,616.7 L421.4,608.4" stroke="#1e1e1e" stroke-width="3.1" fill="none" />
<path d="M404.9,616.7 L421.4,608.4" stroke="#f4f4f4" stroke-width="0.9" fill="none" />
<path d="M404.9,621.9 L421.4,613.6" stroke="#1e1e1e" stroke-width="3.1" fill="none" />
<path d="M404.9,621.9 L421.4,613.6" stroke="#f4f4f4" stroke-width="0.9" fill="none" />
<path d="M404.9,627.2 L421.4,618.9" stroke="#1e1e1e" stroke-width="3.1" fill="none" />
<path d="M404.9,627.2 L421.4,618.9" stroke="#f4f4f4" stroke-width="0.9" fill="none" />
<path d="M404.9,632.5 L421.4,624.2" stroke="#1e1e1e" stroke-width="3.1" fill="none" />
<path d="M404.9,632.5 L421.4,624.2" stroke="#f4f4f4" stroke-width="0.9" fill="none" />
</g>
<text class="lb" x="463" y="541.5" textLength="11.5" lengthAdjust="spacingAndGlyphs">3-S</text>
<path d="M462.6,538.5 L455,538.5 L431,558.2" stroke="#4a4a4a" stroke-width="1.0" fill="none" stroke-linecap="butt"/>
<path d="M412.8,741 L449.4,757.2 L458,752.8 L458,757 L449.4,761.4 L412.8,745.8 Z" stroke="#222" stroke-width="1.2" fill="#fff" />
<path d="M412.8,745.8 L412.8,741 M449.4,757.2 L449.4,761.4" stroke="#222" stroke-width="1.0" fill="none" />
<path d="M414.6,736.2 Q435,748.5 456.6,735.6" stroke="#555" stroke-width="2.6" fill="none" />
<path d="M414.6,736.2 Q435,748.5 456.6,735.6" stroke="#ddd" stroke-width="0.9" fill="none" />
<path d="M413,739 Q435,752 458,738.5" stroke="#222" stroke-width="1.0" fill="none" />
<path d="M428.5,744 L432,751.5 L435.2,748 L438.4,751.5 L442,744" stroke="#222" stroke-width="1.5" fill="none" />
<ellipse cx="435.2" cy="746.2" rx="1.8" ry="1.3" stroke="#222" stroke-width="1.0" fill="#888" />
<ellipse cx="433.8" cy="752" rx="0.8" ry="0.8" stroke="#222" stroke-width="0.6" fill="none" />
<ellipse cx="436.8" cy="752" rx="0.8" ry="0.8" stroke="#222" stroke-width="0.6" fill="none" />
<path d="M384.6,741 L399,732.6 L412.8,737 L412.8,747 L402.6,752.6 L384.6,744.4 Z" stroke="#222" stroke-width="1.3" fill="#fff" />
<path d="M384.6,741 L401,748.6 L412.8,742 M401,748.6 L402.6,752.6" stroke="#222" stroke-width="1.0" fill="none" />
<path d="M399,736.5 L399,745" stroke="#666" stroke-width="0.8" fill="none" />
<ellipse cx="400.5" cy="731.8" rx="2.2" ry="2.6" stroke="#222" stroke-width="1.2" fill="#ddd" />
<line x1="399" y1="734.5" x2="402" y2="734.5" stroke="#222" stroke-width="1.2" />
<path d="M457.8,734.5 L470.5,727.5 L483,724.8 L487.2,729 L487.2,749.5 L471,758.6 L457.8,752 Z" stroke="#222" stroke-width="1.3" fill="#fff" />
<path d="M457.8,738.5 L471,745 L487.2,735.5 M471,745 L471,758.6" stroke="#222" stroke-width="1.0" fill="none" />
<path d="M466.5,737 L466.5,745.5 L470.5,747.5" stroke="#666" stroke-width="0.8" fill="none" />
<ellipse cx="469.5" cy="731.2" rx="2.2" ry="2.6" stroke="#222" stroke-width="1.2" fill="#ddd" />
<line x1="468" y1="734" x2="471" y2="734" stroke="#222" stroke-width="1.2" />
<path d="M473,733.5 L484,727.5" stroke="#888" stroke-width="0.8" fill="none" />
<ellipse cx="434.5" cy="703" rx="53.5" ry="31.4" stroke="#222" stroke-width="1.3" fill="#fff" />
<ellipse cx="434.5" cy="694" rx="53.5" ry="31.4" stroke="#222" stroke-width="1.3" fill="#fff" />
<ellipse cx="434.5" cy="685" rx="53.5" ry="31.4" stroke="#222" stroke-width="1.3" fill="#fff" />
<ellipse cx="434.5" cy="676" rx="53.5" ry="31.4" stroke="#222" stroke-width="1.3" fill="#fff" />
<ellipse cx="434.7" cy="673" rx="41.5" ry="18" stroke="#222" stroke-width="1.2" fill="#fff" />
<clipPath id="cpc"><ellipse cx="434.7" cy="673" rx="41.5" ry="18"/></clipPath>
<g clip-path="url(#cpc)">
<ellipse cx="434.7" cy="681.2" rx="41.5" ry="18" stroke="#222" stroke-width="1.1" fill="none" />
<ellipse cx="434.7" cy="689.4" rx="41.5" ry="18" stroke="#222" stroke-width="1.1" fill="none" />
<ellipse cx="434.7" cy="697.6" rx="41.5" ry="18" stroke="#222" stroke-width="1.1" fill="none" />
<ellipse cx="434.7" cy="677.2" rx="41.5" ry="18" stroke="#777" stroke-width="0.6" fill="none" />
</g>
<path d="M413.8,646 L413.8,690 Q420,698 436,698 Q452,698 457.4,690 L457.4,646" stroke="#222" stroke-width="1.3" fill="#fff" />
<path d="M413.8,649 Q413.5,641 419,637 Q426,632 435.6,632 Q445,632 452,637 Q457.7,641 457.4,649" stroke="#222" stroke-width="1.3" fill="#fff" />
<path d="M413.8,648.6 Q424,657.2 435.6,657 Q447,657.2 457.4,648.6" stroke="#222" stroke-width="1.0" fill="none" />
<path d="M416,643.5 Q425,651.5 435.6,651.3 Q446,651.5 455.2,643.5" stroke="#666" stroke-width="0.7" fill="none" />
<ellipse cx="435.4" cy="640.4" rx="8.2" ry="4.6" stroke="#222" stroke-width="1.0" fill="none" />
<path d="M441.5,632.5 L449,629.5 L453,632 L446,635 Z" stroke="#222" stroke-width="1.0" fill="#999" />
<path d="M447.5,631 L449,626.5" stroke="#222" stroke-width="2.8" fill="none" />
<ellipse cx="449.3" cy="625.5" rx="1.7" ry="2.3" stroke="#222" stroke-width="1.2" fill="#bbb" />
<path d="M414.5,651 Q415,646.8 419.5,647.3 Q424.5,648 424.3,652 L424,657.5 L417,658.5 Z" stroke="#222" stroke-width="1.1" fill="#eee" />
<ellipse cx="418" cy="654.5" rx="2.2" ry="2.2" stroke="#222" stroke-width="1.2" fill="#999" />
<line x1="413.5" y1="655.5" x2="416" y2="655" stroke="#222" stroke-width="1.6" />
<rect x="409.3" y="664.8" width="3.6" height="9.5" stroke="#222" stroke-width="1.1" fill="#eee" />
<line x1="411" y1="665.5" x2="411" y2="673.5" stroke="#666" stroke-width="0.6" />
<ellipse cx="429.5" cy="682.3" rx="3.0" ry="3.7" stroke="#222" stroke-width="1.1" fill="#fff" transform="rotate(25 429.5 682.3)"/>
<ellipse cx="430.2" cy="682.0" rx="2.0" ry="2.7" stroke="#222" stroke-width="0.8" fill="none" transform="rotate(25 430.2 682)"/>
<path d="M443,692 L446,686 Q449,683 456,685 L462.5,689 L464,697 L456,702.5 L446,701.5 Z" stroke="#222" stroke-width="1.1" fill="#fff" />
<ellipse cx="449.3" cy="685.6" rx="5.6" ry="2.9" stroke="#222" stroke-width="1.2" fill="#ddd" />
<ellipse cx="449.3" cy="685.9" rx="3.8" ry="1.6" stroke="#222" stroke-width="0.8" fill="#aaa" />
<path d="M447,690 L455,695.5 L459,688 M455,695.5 L456,702.5" stroke="#222" stroke-width="0.9" fill="none" />
<path d="M456.5,686 Q462,690 463.5,697" stroke="#222" stroke-width="1.0" fill="none" />
<path d="M434.5,694.5 L441.5,691 L446,700.5 L438.5,704.5 Z" stroke="#222" stroke-width="1.1" fill="#bbb" />
<path d="M436.5,693.5 L440.5,703.5 M438.8,692.5 L443,702" stroke="#222" stroke-width="0.9" fill="none" />
<ellipse cx="436.5" cy="699.5" rx="2.0" ry="4.6" stroke="#222" stroke-width="1.2" fill="#ddd" transform="rotate(-25 436.5 699.5)"/>
<path d="M382.5,690.5 Q386,697 398,700 Q415,704.5 426,704 Q431,703.5 434.5,700" stroke="#222" stroke-width="1.2" fill="none" />
<path d="M383,694 Q388,700.5 398,703.5 Q415,708 427,707 Q433,706 437,703" stroke="#222" stroke-width="1.2" fill="none" />
<path d="M383.5,702.5 L367,712 Q361,712.5 356,716 L342,724 Q338,727.5 340,731.5 Q343,735.5 348,733.5 L362,726.5 Q369,722 372,717 L386.5,708.8" stroke="#222" stroke-width="1.2" fill="#fff" />
<ellipse cx="360.5" cy="722.7" rx="4.9" ry="5.8" stroke="#222" stroke-width="1.2" fill="#fff" transform="rotate(-20 360.5 722.7)"/>
<ellipse cx="360.8" cy="722.7" rx="3.1" ry="4.0" stroke="#222" stroke-width="0.9" fill="none" transform="rotate(-20 360.8 722.7)"/>
<path d="M340,726.5 Q343,723.5 347.5,724 L351,731.5 Q348.5,734.5 344,734.5 Z" stroke="#222" stroke-width="1.1" fill="#aaa" />
<path d="M343.5,724.5 L346.8,733.8" stroke="#222" stroke-width="0.9" fill="none" />
<path d="M340,730.5 L333,735 Q327,738.5 324,737 Q321.5,735.5 321.5,730 L321.5,704.5" stroke="#222" stroke-width="2.9" fill="none" />
<path d="M340,730.5 L333,735 Q327,738.5 324,737 Q321.5,735.5 321.5,730 L321.5,704.5" stroke="#fff" stroke-width="1.2" fill="none" />
<line x1="320.3" y1="703.8" x2="322.7" y2="703.8" stroke="#222" stroke-width="1.5" />
<text class="lb" x="485" y="616.1" textLength="12" lengthAdjust="spacingAndGlyphs">6-H</text>
<path d="M484.4,613.2 L478.5,613.2 L454,634.5" stroke="#4a4a4a" stroke-width="1.0" fill="none" stroke-linecap="butt"/>
<text class="lb" x="503.5" y="648.1" textLength="12.1" lengthAdjust="spacingAndGlyphs">2-H</text>
<path d="M502.9,645.2 L497,645.2 L471,683" stroke="#4a4a4a" stroke-width="1.0" fill="none" stroke-linecap="butt"/>
<path d="M276.9,818.6 L395.8,759.8 Q398,757.6 402,757.6 L424,757.6 Q427,757.8 428.5,759.8 L547.3,818.8 L547.3,835.4 L426.5,898 L416,890.5 L413,886 L396,885.5 L388,889.5 L276.9,835 Z" stroke="#222" stroke-width="1.5" fill="#fff" />
<line x1="279.6" y1="817.5" x2="279.6" y2="836" stroke="#222" stroke-width="0.8" />
<line x1="544.6" y1="817.7" x2="544.6" y2="836.5" stroke="#222" stroke-width="0.8" />
<path d="M279.6,819.5 L396.5,762 Q398.5,760.3 402,760.3 L424,760.3 Q426.5,760.3 428,762 L544.6,819.8" stroke="#222" stroke-width="0.8" fill="none" />
<path d="M279.6,833.3 L389,886.3 L396,883 L413,883.3 L417,887.5 L427.5,893.5 L544.6,833.8" stroke="#222" stroke-width="0.9" fill="none" />
<path d="M283,833 L390,884 M428,891 L541,833.2" stroke="#555" stroke-width="0.6" fill="none" />
<line x1="426.5" y1="892.5" x2="426.5" y2="898" stroke="#222" stroke-width="0.8" />
<line x1="440.0" y1="886.5" x2="442.5" y2="885.2" stroke="#333" stroke-width="1.6" />
<line x1="451.2" y1="880.8" x2="453.8" y2="879.5" stroke="#333" stroke-width="1.6" />
<line x1="462.5" y1="875.0" x2="465.0" y2="873.7" stroke="#333" stroke-width="1.6" />
<line x1="473.8" y1="869.2" x2="476.2" y2="868.0" stroke="#333" stroke-width="1.6" />
<line x1="485.0" y1="863.5" x2="487.5" y2="862.2" stroke="#333" stroke-width="1.6" />
<line x1="496.2" y1="857.8" x2="498.8" y2="856.5" stroke="#333" stroke-width="1.6" />
<line x1="507.5" y1="852.0" x2="510.0" y2="850.7" stroke="#333" stroke-width="1.6" />
<line x1="518.8" y1="846.2" x2="521.2" y2="845.0" stroke="#333" stroke-width="1.6" />
<line x1="530.0" y1="840.5" x2="532.5" y2="839.2" stroke="#333" stroke-width="1.6" />
<line x1="290.0" y1="841.0" x2="292.0" y2="842.0" stroke="#333" stroke-width="1.4" />
<line x1="312.5" y1="851.9" x2="314.5" y2="852.9" stroke="#333" stroke-width="1.4" />
<line x1="335.0" y1="862.8" x2="337.0" y2="863.8" stroke="#333" stroke-width="1.4" />
<line x1="357.5" y1="873.6" x2="359.5" y2="874.6" stroke="#333" stroke-width="1.4" />
<line x1="380.0" y1="884.5" x2="382.0" y2="885.5" stroke="#333" stroke-width="1.4" />
<clipPath id="cpb"><path d="M279.6,819.5 L396.5,762 L428,762 L544.6,819.8 L544.6,833.8 L427.5,893.5 L417,887.5 L413,883.3 L396,883 L389,886.3 L279.6,833.3 Z"/></clipPath>
<g clip-path="url(#cpb)">
<path d="M300.2,825.2 L396.6,776 L400,773.5 L425,773.5 L427.9,776 L524.6,824 L524.6,839 L431,887 L405,886 L302.7,840 Z" stroke="#222" stroke-width="0.9" fill="none" />
<path d="M303.5,826.5 L397.5,778.8 L401.5,776.3 L424,776.3 L427,778.8 L521.5,825.5 L521.5,838 L430,884.3 L406.5,883.5 L305.5,838.5 Z" stroke="#444" stroke-width="0.7" fill="none" />
<path d="M310,829.5 L398.5,784.5 L404,781.5 L422,781.5 L426,784.5 L514.5,829 L514.5,835.5 L429.5,878.5 L407.5,878 L310,836 Z" stroke="#555" stroke-width="0.7" fill="none" />
<path d="M303.5,826.5 L310,829.5" stroke="#222" stroke-width="0.7" fill="none" />
<path d="M305.5,838.5 L310,836" stroke="#222" stroke-width="0.7" fill="none" />
<path d="M521.5,825.5 L514.5,829" stroke="#222" stroke-width="0.7" fill="none" />
<path d="M521.5,838 L514.5,835.5" stroke="#222" stroke-width="0.7" fill="none" />
<path d="M401.5,776.3 L404,781.5" stroke="#222" stroke-width="0.7" fill="none" />
<path d="M424,776.3 L422,781.5" stroke="#222" stroke-width="0.7" fill="none" />
</g>
<ellipse cx="291.2" cy="821.0" rx="2.1" ry="1.5" stroke="#222" stroke-width="1.3" fill="none" />
<ellipse cx="299.6" cy="816.9" rx="2.1" ry="1.5" stroke="#222" stroke-width="1.3" fill="none" />
<ellipse cx="308.1" cy="812.7" rx="2.1" ry="1.5" stroke="#222" stroke-width="1.3" fill="none" />
<ellipse cx="316.5" cy="808.5" rx="2.1" ry="1.5" stroke="#222" stroke-width="1.3" fill="none" />
<ellipse cx="325.0" cy="804.4" rx="2.1" ry="1.5" stroke="#222" stroke-width="1.3" fill="none" />
<ellipse cx="333.4" cy="800.2" rx="2.1" ry="1.5" stroke="#222" stroke-width="1.3" fill="none" />
<ellipse cx="341.9" cy="796.1" rx="2.1" ry="1.5" stroke="#222" stroke-width="1.3" fill="none" />
<ellipse cx="350.3" cy="792.0" rx="2.1" ry="1.5" stroke="#222" stroke-width="1.3" fill="none" />
<ellipse cx="358.7" cy="787.8" rx="2.1" ry="1.5" stroke="#222" stroke-width="1.3" fill="none" />
<ellipse cx="367.2" cy="783.7" rx="2.1" ry="1.5" stroke="#222" stroke-width="1.3" fill="none" />
<ellipse cx="375.6" cy="779.5" rx="2.1" ry="1.5" stroke="#222" stroke-width="1.3" fill="none" />
<ellipse cx="384.1" cy="775.4" rx="2.1" ry="1.5" stroke="#222" stroke-width="1.3" fill="none" />
<ellipse cx="392.5" cy="771.2" rx="2.1" ry="1.5" stroke="#222" stroke-width="1.3" fill="none" />
<ellipse cx="432.2" cy="771.3" rx="2.1" ry="1.5" stroke="#222" stroke-width="1.3" fill="none" />
<ellipse cx="440.6" cy="775.4" rx="2.1" ry="1.5" stroke="#222" stroke-width="1.3" fill="none" />
<ellipse cx="449.0" cy="779.6" rx="2.1" ry="1.5" stroke="#222" stroke-width="1.3" fill="none" />
<ellipse cx="457.5" cy="783.7" rx="2.1" ry="1.5" stroke="#222" stroke-width="1.3" fill="none" />
<ellipse cx="465.9" cy="787.9" rx="2.1" ry="1.5" stroke="#222" stroke-width="1.3" fill="none" />
<ellipse cx="474.3" cy="792.0" rx="2.1" ry="1.5" stroke="#222" stroke-width="1.3" fill="none" />
<ellipse cx="482.8" cy="796.1" rx="2.1" ry="1.5" stroke="#222" stroke-width="1.3" fill="none" />
<ellipse cx="491.2" cy="800.3" rx="2.1" ry="1.5" stroke="#222" stroke-width="1.3" fill="none" />
<ellipse cx="499.6" cy="804.4" rx="2.1" ry="1.5" stroke="#222" stroke-width="1.3" fill="none" />
<ellipse cx="508.0" cy="808.6" rx="2.1" ry="1.5" stroke="#222" stroke-width="1.3" fill="none" />
<ellipse cx="516.4" cy="812.7" rx="2.1" ry="1.5" stroke="#222" stroke-width="1.3" fill="none" />
<ellipse cx="524.9" cy="816.9" rx="2.1" ry="1.5" stroke="#222" stroke-width="1.3" fill="none" />
<ellipse cx="533.3" cy="821.0" rx="2.1" ry="1.5" stroke="#222" stroke-width="1.3" fill="none" />
<ellipse cx="407.3" cy="767.4" rx="2.1" ry="1.3" stroke="#222" stroke-width="1.3" fill="none" />
<ellipse cx="416" cy="767.4" rx="2.1" ry="1.3" stroke="#222" stroke-width="1.3" fill="none" />
<ellipse cx="284.5" cy="829.3" rx="1.8" ry="1.8" stroke="#222" stroke-width="1.0" fill="none" />
<ellipse cx="284.5" cy="833.6" rx="1.8" ry="1.8" stroke="#222" stroke-width="1.0" fill="none" />
<ellipse cx="540.3" cy="829.3" rx="1.8" ry="1.8" stroke="#222" stroke-width="1.0" fill="none" />
<ellipse cx="540.3" cy="833.7" rx="1.8" ry="1.8" stroke="#222" stroke-width="1.0" fill="none" />
<path d="M398.9,798.3 Q402,795 406.0,797.0 L488.5,837.5 Q492.5,839.5 488.5,841.5 L478.5,846.5 Q474.5,848.5 470.5,846.4 L460.0,840.6 Q456,838.5 452.0,840.6 L441.0,846.4 Q437,848.5 440.9,850.7 L453.1,857.8 Q457,860 453.0,862.0 L418.0,879.5 Q414,881.5 410.0,879.4 L346.0,846.1 Q342,844 346.0,841.9 L381.5,823.1 Q385.5,821 389.4,823.3 L391.1,824.2 Q395,826.5 399.0,824.4 L411.5,817.6 Q415.5,815.5 411.5,813.5 L397.0,806.5 Q393,804.5 396.1,801.2 Z" stroke="#222" stroke-width="1.2" fill="none" />
<path d="M400.4,800.6 Q402.3,797.6 405.4,799.1 L484.4,838.0 Q487.5,839.5 484.4,841.1 L477.6,844.4 Q474.5,846 471.4,844.3 L459.1,837.7 Q456,836 452.9,837.6 L435.6,846.9 Q432.5,848.5 435.5,850.3 L449.3,858.2 Q452.3,860 449.2,861.6 L417.1,877.4 Q414,879 410.9,877.4 L350.1,845.6 Q347,844 350.1,842.4 L382.4,825.3 Q385.5,823.7 388.5,825.5 L392.0,827.4 Q395,829.2 398.1,827.5 L417.4,817.2 Q420.5,815.5 417.4,814.0 L401.1,806.0 Q398,804.5 399.9,801.5 Z" stroke="#666" stroke-width="0.6" fill="none" />
<path d="M410.1,832.9 Q407.3,831.7 409.9,830.2 L420.8,824.2 Q423.4,822.7 426.1,824.0 L441.8,831.2 Q444.5,832.5 442.0,834.1 L432.7,840.0 Q430.2,841.6 427.4,840.4 Z" stroke="#222" stroke-width="1.1" fill="none" />
<path d="M413.8,832.7 Q411.5,831.8 413.7,830.6 L421.4,826.4 Q423.6,825.2 425.9,826.2 L438.0,831.6 Q440.3,832.6 438.2,833.9 L432.1,837.7 Q430,839 427.7,838.1 Z" stroke="#222" stroke-width="0.7" fill="none" />
<ellipse cx="435.3" cy="811.8" rx="0.7" ry="0.7" stroke="#222" stroke-width="0.5" fill="#222" />
<ellipse cx="403.3" cy="827.7" rx="0.7" ry="0.7" stroke="#222" stroke-width="0.5" fill="#222" />
<ellipse cx="468" cy="827.7" rx="0.7" ry="0.7" stroke="#222" stroke-width="0.5" fill="#222" />
<ellipse cx="435.3" cy="844" rx="0.7" ry="0.7" stroke="#222" stroke-width="0.5" fill="#222" />
<path d="M132.4,476 L132.4,445 Q133,435.8 142.5,433.8 Q147,433 151,434 L151,455 L149.2,457 L149.2,477 Q148,484 141,490 L130.5,500.5 L120.5,484.5 Q131,480 132.4,473 Z" stroke="#222" stroke-width="1.3" fill="#fff" />
<path d="M151,437.3 Q144,438.5 143,446 Q143.2,452.5 149.2,456.5" stroke="#222" stroke-width="1.2" fill="none" />
<path d="M132.4,456.8 Q140.5,461.8 149.2,456.8" stroke="#222" stroke-width="1.2" fill="none" />
<path d="M132.4,472.8 Q140.5,477.6 149.2,472.8" stroke="#222" stroke-width="1.1" fill="none" />
<path d="M132.4,475 Q140.5,479.8 149.2,475" stroke="#222" stroke-width="0.8" fill="none" />
<line x1="134.6" y1="462" x2="134.6" y2="466" stroke="#222" stroke-width="1.5" />
<path d="M151,433 L151,477.5 Q150.5,479.3 147.5,479.3 L139,483.5 L146.5,496.3 Q158,494 164,485.5 Q167.5,479.5 167.5,473 L167.5,433 Z" stroke="#222" stroke-width="1.3" fill="#fff" />
<ellipse cx="159.2" cy="433" rx="8.25" ry="3.9" stroke="#222" stroke-width="1.3" fill="#fff" />
<ellipse cx="159.2" cy="433.4" rx="6.5" ry="2.8" stroke="#222" stroke-width="0.9" fill="none" />
<path d="M151,465.3 Q159,469.5 167.5,465.3" stroke="#222" stroke-width="1.3" fill="none" />
<path d="M151,467.8 Q159,472 167.5,467.8" stroke="#222" stroke-width="1.1" fill="none" />
<ellipse cx="143.9" cy="487.3" rx="5.7" ry="9.0" stroke="#222" stroke-width="1.4" fill="#fff" transform="rotate(-24 143.9 487.3)"/>
<ellipse cx="144.5" cy="487.1" rx="4.3" ry="7.4" stroke="#222" stroke-width="0.9" fill="none" transform="rotate(-24 144.5 487.1)"/>
<ellipse cx="125.8" cy="492.6" rx="5.8" ry="9.0" stroke="#222" stroke-width="1.4" fill="#fff" transform="rotate(-24 125.8 492.6)"/>
<ellipse cx="126.5" cy="492.4" rx="4.3" ry="7.4" stroke="#222" stroke-width="0.9" fill="none" transform="rotate(-24 126.5 492.4)"/>
<text class="lb" x="51" y="452.1" textLength="12" lengthAdjust="spacingAndGlyphs">3-H</text>
<path d="M63.6,449.2 L69.2,449.2 L131.7,463.5" stroke="#4a4a4a" stroke-width="1.0" fill="none" stroke-linecap="butt"/>
<path d="M69.2,449.2 L88.2,500.8" stroke="#4a4a4a" stroke-width="1.0" fill="none" stroke-linecap="butt"/>
<path d="M69.2,449.2 L105.7,497.8" stroke="#4a4a4a" stroke-width="1.0" fill="none" stroke-linecap="butt"/>
<ellipse cx="87.8" cy="511.6" rx="7.5" ry="10.5" stroke="#222" stroke-width="1.2" fill="#fff" transform="rotate(-20 87.8 511.6)"/>
<path d="M78.2,504.1 L84.2,501.7 L91.4,521.5 L85.4,523.9 Z" stroke="none" stroke-width="0.1" fill="#fff" />
<path d="M78.2,504.1 L84.2,501.7 M85.4,523.9 L91.4,521.5" stroke="#222" stroke-width="1.2" fill="none" />
<line x1="81.2" y1="503.9" x2="87.2" y2="501.5" stroke="#333" stroke-width="1.0" />
<line x1="85.4" y1="506.1" x2="91.4" y2="503.7" stroke="#333" stroke-width="1.0" />
<line x1="88.5" y1="510.7" x2="94.5" y2="508.3" stroke="#333" stroke-width="1.0" />
<line x1="89.7" y1="516.2" x2="95.7" y2="513.8" stroke="#333" stroke-width="1.0" />
<line x1="88.7" y1="520.7" x2="94.7" y2="518.3" stroke="#333" stroke-width="1.0" />
<ellipse cx="81.8" cy="514" rx="7.5" ry="10.5" stroke="#222" stroke-width="1.3" fill="#fff" transform="rotate(-20 81.8 514)"/>
<ellipse cx="82.4" cy="513.8" rx="6.2" ry="8.9" stroke="#222" stroke-width="0.9" fill="none" transform="rotate(-20 82.4 513.8)"/>
<path d="M78.8,509.4 L84.8,505.6" stroke="#222" stroke-width="0.9" fill="none" />
<ellipse cx="76.1" cy="516.7" rx="6.0" ry="7.9" stroke="#222" stroke-width="1.3" fill="#fff" transform="rotate(-20 76.1 516.7)"/>
<ellipse cx="77.7" cy="516.1" rx="4.4" ry="6.3" stroke="#222" stroke-width="1.0" fill="none" transform="rotate(-20 77.7 516.1)"/>
<ellipse cx="78.4" cy="516.3" rx="1.3" ry="4.6" stroke="none" stroke-width="0.1" fill="#222" transform="rotate(-20 78.4 516.3)"/>
<ellipse cx="108.6" cy="506.4" rx="6.3" ry="8.8" stroke="#222" stroke-width="1.2" fill="#fff" transform="rotate(-20 108.6 506.4)"/>
<ellipse cx="107.0" cy="506.4" rx="8" ry="11.4" stroke="#222" stroke-width="1.2" fill="#fff" transform="rotate(-20 107.0 506.4)"/>
<path d="M96.5,498.5 L103.1,495.7 L110.9,517.1 L104.3,519.9 Z" stroke="none" stroke-width="0.1" fill="#fff" />
<path d="M96.5,498.5 L103.1,495.7 M104.3,519.9 L110.9,517.1" stroke="#222" stroke-width="1.2" fill="none" />
<line x1="99.7" y1="498.3" x2="106.3" y2="495.5" stroke="#333" stroke-width="1.0" />
<line x1="104.2" y1="500.7" x2="110.8" y2="497.9" stroke="#333" stroke-width="1.0" />
<line x1="107.6" y1="505.6" x2="114.2" y2="502.8" stroke="#333" stroke-width="1.0" />
<line x1="108.9" y1="511.6" x2="115.5" y2="508.8" stroke="#333" stroke-width="1.0" />
<line x1="107.9" y1="516.5" x2="114.5" y2="513.7" stroke="#333" stroke-width="1.0" />
<ellipse cx="100.4" cy="509.2" rx="8" ry="11.4" stroke="#222" stroke-width="1.3" fill="#fff" transform="rotate(-20 100.4 509.2)"/>
<ellipse cx="101.0" cy="509.0" rx="6.7" ry="9.8" stroke="#222" stroke-width="0.9" fill="none" transform="rotate(-20 101.0 509.0)"/>
<path d="M98.3,503.4 L103.8,500.0" stroke="#222" stroke-width="0.9" fill="none" />
<ellipse cx="95.6" cy="510.7" rx="6.0" ry="7.9" stroke="#222" stroke-width="1.3" fill="#fff" transform="rotate(-20 95.6 510.7)"/>
<ellipse cx="97.2" cy="510.1" rx="4.4" ry="6.3" stroke="#222" stroke-width="1.0" fill="none" transform="rotate(-20 97.2 510.1)"/>
<ellipse cx="97.9" cy="510.3" rx="1.3" ry="4.6" stroke="none" stroke-width="0.1" fill="#222" transform="rotate(-20 97.9 510.3)"/>
<text class="lb" x="38" y="569.7" textLength="11.7" lengthAdjust="spacingAndGlyphs">4-H</text>
<path d="M50.3,566.8 L56,566.8 L73,524" stroke="#4a4a4a" stroke-width="1.0" fill="none" stroke-linecap="butt"/>
<path d="M56,566.8 L94.3,521" stroke="#4a4a4a" stroke-width="1.0" fill="none" stroke-linecap="butt"/>
<path d="M122.6,538.3 L135.5,544.6" stroke="#333" stroke-width="3.0" fill="none" />
<path d="M123,538.5 L135,544.4" stroke="#ddd" stroke-width="1.0" fill="none" />
<path d="M135.5,544.6 L150,552" stroke="#222" stroke-width="1.5" fill="none" />
<text class="lb" x="69.3" y="631.9" textLength="11.7" lengthAdjust="spacingAndGlyphs">5-C</text>
<path d="M81.6,629 L87.5,629 L131,545.5" stroke="#4a4a4a" stroke-width="1.0" fill="none" stroke-linecap="butt"/>
<path d="M185.8,470.5 L190.2,466.5 L191.2,468.5 L191.2,666.5 L187.0,669.5 L185.8,668.5 Z" stroke="#222" stroke-width="1.0" fill="#fff" />
<line x1="187.4" y1="470.5" x2="187.4" y2="669" stroke="#555" stroke-width="0.6" />
<line x1="189.79999999999998" y1="468" x2="189.79999999999998" y2="667" stroke="#555" stroke-width="0.6" />
<line x1="188.4" y1="481" x2="188.4" y2="484" stroke="#222" stroke-width="1.0" />
<text class="lb" x="220.5" y="611.9" textLength="11.0" lengthAdjust="spacingAndGlyphs">3-S</text>
<path d="M219.9,609 L214,609 L192,633" stroke="#4a4a4a" stroke-width="1.0" fill="none" stroke-linecap="butt"/>
<path d="M542,515.5 L546.4,511.5 L547.4,513.5 L547.4,713.0 L543.2,716.0 L542,715.0 Z" stroke="#222" stroke-width="1.0" fill="#fff" />
<line x1="543.6" y1="515.5" x2="543.6" y2="715.5" stroke="#555" stroke-width="0.6" />
<line x1="546.0" y1="513" x2="546.0" y2="713.5" stroke="#555" stroke-width="0.6" />
<line x1="544.6" y1="526" x2="544.6" y2="529" stroke="#222" stroke-width="1.0" />
<text class="lb" x="582.5" y="488.1" textLength="11.3" lengthAdjust="spacingAndGlyphs">3-S</text>
<path d="M581.9,485.2 L576,485.2 L546.5,512.5" stroke="#4a4a4a" stroke-width="1.0" fill="none" stroke-linecap="butt"/>
<path d="M122.8,583.2 L124.6,587.6 L126.2,586.6 L130.8,586.4 L182.8,612.3 L182.8,754.4 L122.7,725.4 Z" stroke="#222" stroke-width="1.3" fill="#fff" />
<path d="M130.8,586.8 L182.6,612.6" stroke="#222" stroke-width="2.1" fill="none" />
<path d="M183.4,612.6 L183.4,753.6" stroke="#222" stroke-width="2.0" fill="none" />
<path d="M123,583.5 L125.6,584.5" stroke="#222" stroke-width="1.4" fill="none" />
<ellipse cx="126.7" cy="724.6" rx="0.7" ry="0.7" stroke="#222" stroke-width="0.5" fill="#222" />
<ellipse cx="155.2" cy="738.8" rx="0.7" ry="0.7" stroke="#222" stroke-width="0.5" fill="#222" />
<ellipse cx="126.8" cy="589" rx="0.7" ry="0.7" stroke="#222" stroke-width="0.5" fill="#222" />
<text class="lb" x="60.4" y="724.1" textLength="10.9" lengthAdjust="spacingAndGlyphs">2-S</text>
<path d="M71.9,721.2 L78,721.2 L122.8,684" stroke="#4a4a4a" stroke-width="1.0" fill="none" stroke-linecap="butt"/>
<path d="M122.5,741.6 L206.2,782.6 L230.5,782.6 L256.5,770.2 L256.6,818.1 L230.5,831.6 L206.2,831.6 L122.5,790.2 Z" stroke="#222" stroke-width="1.3" fill="#fff" />
<path d="M122.5,745.2 L206.2,785.7 L230.5,785.7 L256.5,773.2" stroke="#222" stroke-width="1.0" fill="none" />
<path d="M124,743.5 L206.4,784 L230.4,784 L256,771.8" stroke="#777" stroke-width="0.5" fill="none" />
<line x1="206.2" y1="785.7" x2="206.2" y2="831.6" stroke="#222" stroke-width="1.0" />
<line x1="230.5" y1="785.7" x2="230.5" y2="831.6" stroke="#222" stroke-width="1.0" />
<ellipse cx="148.2" cy="789" rx="5.4" ry="7.3" stroke="#222" stroke-width="1.1" fill="none" transform="rotate(-14 148.2 789)"/>
<ellipse cx="166.6" cy="783.4" rx="5.2" ry="7.1" stroke="#222" stroke-width="1.1" fill="none" transform="rotate(-14 166.6 783.4)"/>
<ellipse cx="235.2" cy="790.3" rx="1.9" ry="2.8" stroke="#222" stroke-width="1.1" fill="none" transform="rotate(-20 235.2 790.3)"/>
<ellipse cx="238.6" cy="790.6" rx="0.8" ry="0.8" stroke="#222" stroke-width="0.5" fill="#222" />
<ellipse cx="127" cy="775.5" rx="0.7" ry="0.7" stroke="#222" stroke-width="0.5" fill="#222" />
<ellipse cx="127" cy="788.5" rx="0.7" ry="0.7" stroke="#222" stroke-width="0.5" fill="#222" />
<ellipse cx="127.5" cy="744.5" rx="0.7" ry="0.7" stroke="#222" stroke-width="0.5" fill="#222" />
<ellipse cx="185" cy="786.5" rx="0.7" ry="0.7" stroke="#222" stroke-width="0.5" fill="#222" />
<ellipse cx="156.5" cy="803" rx="0.7" ry="0.7" stroke="#222" stroke-width="0.5" fill="#222" />
<ellipse cx="186" cy="818.5" rx="0.7" ry="0.7" stroke="#222" stroke-width="0.5" fill="#222" />
<ellipse cx="252" cy="781.5" rx="0.7" ry="0.7" stroke="#222" stroke-width="0.5" fill="#222" />
<ellipse cx="252" cy="818.5" rx="0.7" ry="0.7" stroke="#222" stroke-width="0.5" fill="#222" />
<ellipse cx="235" cy="826.5" rx="0.7" ry="0.7" stroke="#222" stroke-width="0.5" fill="#222" />
<ellipse cx="155" cy="757.5" rx="0.7" ry="0.7" stroke="#222" stroke-width="0.5" fill="#222" />
<ellipse cx="184.5" cy="772.5" rx="0.7" ry="0.7" stroke="#222" stroke-width="0.5" fill="#222" />
<line x1="193" y1="821" x2="193" y2="825.5" stroke="#222" stroke-width="1.5" />
<line x1="230.8" y1="826" x2="230.8" y2="830.5" stroke="#222" stroke-width="1.5" />
<text class="lb" x="96.3" y="854.1" textLength="8.9" lengthAdjust="spacingAndGlyphs">1-S</text>
<path d="M105.8,851.2 L112,851.2 L144.2,802.5" stroke="#4a4a4a" stroke-width="1.0" fill="none" stroke-linecap="butt"/>
<path d="M206.8,417 L206.8,426.5 Q208.4,428.6 210,426.5 L210,417 Z" stroke="#222" stroke-width="1.2" fill="#fff" />
<ellipse cx="208.4" cy="426.3" rx="1.5" ry="1.0" stroke="#222" stroke-width="0.9" fill="none" />
<path d="M204,403.5 L228,413 L223.5,423.4 L203,414.8 Z" stroke="none" stroke-width="0.1" fill="#fff" />
<path d="M207,404 L228,412.8 M203.5,414.6 L223.5,423.2" stroke="#222" stroke-width="1.4" fill="none" />
<path d="M208,408.5 L224.5,415.8" stroke="#222" stroke-width="1.0" fill="none" />
<ellipse cx="226.6" cy="418.3" rx="3.6" ry="5.8" stroke="#222" stroke-width="1.4" fill="#fff" transform="rotate(22 226.6 418.3)"/>
<path d="M199.5,388.6 L199.5,405 Q202.5,406.8 205.5,405 L205.5,388.6" stroke="#222" stroke-width="1.3" fill="#fff" />
<ellipse cx="202.5" cy="388.6" rx="3" ry="1.6" stroke="#222" stroke-width="1.2" fill="#fff" />
<path d="M199.5,393.20000000000005 Q202.5,395.0 205.5,393.20000000000005" stroke="#222" stroke-width="0.9" fill="none" />
<path d="M205.6,388.9 L205.6,407.5 Q208.6,409.3 211.6,407.5 L211.6,388.9" stroke="#222" stroke-width="1.3" fill="#fff" />
<ellipse cx="208.6" cy="388.9" rx="3" ry="1.6" stroke="#222" stroke-width="1.2" fill="#fff" />
<path d="M205.6,393.5 Q208.6,395.29999999999995 211.6,393.5" stroke="#222" stroke-width="0.9" fill="none" />
<path d="M211.5,394.2 L211.5,410 Q214.5,411.8 217.5,410 L217.5,394.2" stroke="#222" stroke-width="1.3" fill="#fff" />
<ellipse cx="214.5" cy="394.2" rx="3" ry="1.6" stroke="#222" stroke-width="1.2" fill="#fff" />
<path d="M211.5,398.8 Q214.5,400.59999999999997 217.5,398.8" stroke="#222" stroke-width="0.9" fill="none" />
<path d="M187,398.5 Q189,394.5 193,395.8 L200,399.5 L199,406.5 L193.5,408.5 L187.5,404.5 Q185.8,401.5 187,398.5 Z" stroke="#222" stroke-width="1.3" fill="#fff" />
<path d="M187.5,401.5 L193.5,405 L199.5,401.5" stroke="#222" stroke-width="1.0" fill="none" />
<path d="M193,403.5 L196.5,400.5 L197.5,404.5 Z" stroke="#222" stroke-width="1.0" fill="#222" />
<path d="M190.2,408 L196.5,404.5 L204,407.5 L204,415.5 L197,419 L190.2,415.5 Z" stroke="#222" stroke-width="1.3" fill="#fff" />
<path d="M190.2,408 L197,411.3 L204,407.5 M197,411.3 L197,419" stroke="#222" stroke-width="1.1" fill="none" />
<ellipse cx="201" cy="413.3" rx="1.9" ry="2.3" stroke="#222" stroke-width="1.3" fill="#555" />
<text class="lb" x="257" y="345.8" textLength="12" lengthAdjust="spacingAndGlyphs">9-H</text>
<path d="M256.4,342.9 L251.7,342.9 L211,388" stroke="#4a4a4a" stroke-width="1.0" fill="none" stroke-linecap="butt"/>
<path d="M275.2,501.5 Q276,514 272.5,519.5 Q270,523.5 268,521.5" stroke="#222" stroke-width="1.5" fill="none" />
<path d="M259.7,507 L263.9,505.6 L268.2,518 L265.2,519.6 Z" stroke="#222" stroke-width="1.4" fill="#fff" />
<path d="M265.4,518.5 L267,524.5 L268,519" stroke="#222" stroke-width="1.6" fill="#222" />
<path d="M264.6,483.2 L264.6,489 L266,489.6 L266,493.5 L269.6,493.5 L269.6,489.6 L270.8,489 L270.8,483.2 Z" stroke="#222" stroke-width="1.3" fill="#fff" />
<ellipse cx="267.7" cy="483.2" rx="3.1" ry="1.4" stroke="#222" stroke-width="1.2" fill="#fff" />
<path d="M264.6,486.3 Q267.7,488 270.8,486.3" stroke="#222" stroke-width="0.9" fill="none" />
<path d="M260.3,495 L263,491.5 L270,494 L271.5,498 L268,501.5 L261.5,499 Z" stroke="#222" stroke-width="1.3" fill="#3a3a3a" />
<path d="M262,494.5 L264,493.3 L264.6,496.5 L262.6,497.5 Z" stroke="#eee" stroke-width="0.5" fill="#eee" />
<ellipse cx="273.7" cy="498.3" rx="3.9" ry="5.4" stroke="#222" stroke-width="1.5" fill="#fff" transform="rotate(15 273.7 498.3)"/>
<ellipse cx="273.2" cy="499.3" rx="1.6" ry="1.9" stroke="#222" stroke-width="1.3" fill="#fff" />
<path d="M266.5,501 L266.5,505 Q268.2,507.3 270,505 L270,501" stroke="#222" stroke-width="1.3" fill="#fff" />
<text class="lb" x="231" y="451.9" textLength="9.5" lengthAdjust="spacingAndGlyphs">1-C</text>
<path d="M241.1,449 L246.3,449 L265,484.5" stroke="#4a4a4a" stroke-width="1.0" fill="none" stroke-linecap="butt"/>
<path d="M260.6,554 L260.6,575.5 Q261,580 268.6,580.3 Q276.2,580 276.7,575.5 L276.7,554" stroke="#222" stroke-width="1.2" fill="#fff" />
<ellipse cx="268.6" cy="554" rx="8.05" ry="3.6" stroke="#222" stroke-width="1.2" fill="#fff" />
<path d="M260.6,572.5 Q262,576.5 268.6,576.8 Q275.5,576.5 276.7,572.5" stroke="#222" stroke-width="0.8" fill="none" />
<path d="M260.6,557 Q262,561 268.6,561.2 Q275.5,561 276.7,557" stroke="#222" stroke-width="0.8" fill="none" />
<rect x="267" y="548.3" width="3.4" height="5" stroke="#222" stroke-width="1.0" fill="#fff" />
<ellipse cx="268.7" cy="548.3" rx="1.7" ry="0.9" stroke="#222" stroke-width="0.9" fill="#fff" />
<path d="M266.6,580.3 L267,582 L270.4,582 L270.8,580.3" stroke="#222" stroke-width="1.0" fill="#fff" />
<line x1="273.3" y1="563.5" x2="273.3" y2="569" stroke="#333" stroke-width="1.6" />
<text class="lb" x="302" y="532.6" textLength="12" lengthAdjust="spacingAndGlyphs">5-H</text>
<path d="M301.4,529.7 L296.7,529.7 L276.7,560.5" stroke="#4a4a4a" stroke-width="1.0" fill="none" stroke-linecap="butt"/>
<path d="M351,618.3 L381.5,620.9" stroke="#1e1e1e" stroke-width="3.6" fill="none" />
<path d="M352,618.4 L380,620.7" stroke="#999" stroke-width="0.8" fill="none" />
<rect x="335.8" y="615.4" width="5.2" height="5.6" stroke="#222" stroke-width="1.2" fill="#fff" rx="1.2" transform="rotate(3 338 618)"/>
<rect x="340.6" y="615.3" width="5.4" height="6.0" stroke="#222" stroke-width="1.5" fill="#fff" transform="rotate(3 343 618)"/>
<rect x="346.2" y="616.2" width="4.6" height="4.8" stroke="#222" stroke-width="1.2" fill="#fff" transform="rotate(3 348 618.5)"/>
<line x1="346.5" y1="618.8" x2="350.5" y2="619.1" stroke="#222" stroke-width="1.0" />
<rect x="381.2" y="618.4" width="2.9" height="4.9" stroke="#222" stroke-width="1.1" fill="#bbb" rx="1" transform="rotate(4 382.5 621)"/>
<text class="lb" x="314" y="594.5" textLength="12" lengthAdjust="spacingAndGlyphs">2-C</text>
<path d="M326.6,591.6 L331.5,591.6 L341.5,614.5" stroke="#4a4a4a" stroke-width="1.0" fill="none" stroke-linecap="butt"/>
<ellipse cx="346.2" cy="643.3" rx="3.0" ry="3.8" stroke="#1e1e1e" stroke-width="1.9" fill="#fff" transform="rotate(-12 346.2 643.3)"/>
<path d="M345,641.5 L347.5,641 M345,644 L347,643.6" stroke="#555" stroke-width="1.0" fill="none" />
<path d="M346.5,647 Q348.8,650 349.6,655.5" stroke="#1e1e1e" stroke-width="2.4" fill="none" />
<text class="lb" x="309.5" y="675.8" textLength="11.8" lengthAdjust="spacingAndGlyphs">3-C</text>
<path d="M321.9,672.9 L326.8,672.9 L344.5,647" stroke="#4a4a4a" stroke-width="1.0" fill="none" stroke-linecap="butt"/>
<path d="M263.5,633.5 Q268,631 271.5,634.5 Q272.5,636 272.3,638" stroke="#222" stroke-width="2.2" fill="none" />
<path d="M255.5,639.5 Q255.3,637.8 257,637 L262.5,634.6 L268,637 L268,645.5 L262,648.6 L256.5,646 Q255.4,645.3 255.5,644 Z" stroke="#222" stroke-width="1.3" fill="#fff" />
<path d="M256,638.5 L262,641.2 L268,637.5 M262,641.2 L262,648.4" stroke="#222" stroke-width="1.0" fill="none" />
<ellipse cx="258.8" cy="644.2" rx="1.7" ry="2.1" stroke="#222" stroke-width="1.1" fill="#fff" />
<path d="M265.5,643 L271.5,639.8 L277.8,642.8 L277.8,649.5 L271.5,652.4 L265.5,649.5 Z" stroke="#222" stroke-width="1.2" fill="#fff" />
<path d="M265.5,643 L271.5,646 L271.5,652.4 L265.5,649.5 Z" stroke="#222" stroke-width="1.0" fill="#2e2e2e" />
<path d="M271.5,646 L277.8,642.8" stroke="#222" stroke-width="1.0" fill="none" />
<ellipse cx="271.8" cy="642.6" rx="0.8" ry="0.6" stroke="#222" stroke-width="0.5" fill="#222" />
<path d="M263.5,642 L266,643.3 L266,649 L263.5,647.8 Z" stroke="#222" stroke-width="0.8" fill="#666" />
<text class="lb" x="226" y="668.1" textLength="11.8" lengthAdjust="spacingAndGlyphs">7-H</text>
<path d="M238.4,665.2 L244.8,665.2 L257,650.5" stroke="#4a4a4a" stroke-width="1.0" fill="none" stroke-linecap="butt"/>
<path d="M257.5,703.2 L280.5,714.7" stroke="#222" stroke-width="3.6" fill="none" />
<path d="M258.2,703.6 L279.8,714.3" stroke="#fff" stroke-width="1.5" fill="none" />
<path d="M268.4,697 L268.4,711" stroke="#222" stroke-width="3.6" fill="none" />
<path d="M268.4,697.6 L268.4,711" stroke="#fff" stroke-width="1.5" fill="none" />
<rect x="266.6" y="706.5" width="3.7" height="6.4" stroke="#222" stroke-width="1.2" fill="#fff" rx="0.8"/>
<line x1="267.1" y1="701.3" x2="269.8" y2="701.3" stroke="#222" stroke-width="0.8" />
<path d="M258.6,701.8 L257,705 M279.8,713 L278.4,716.2" stroke="#222" stroke-width="1.0" fill="none" />
<text class="lb" x="211" y="729.9" textLength="12" lengthAdjust="spacingAndGlyphs">8-H</text>
<path d="M223.6,727 L230,727 L269,714" stroke="#4a4a4a" stroke-width="1.0" fill="none" stroke-linecap="butt"/>
<path d="M601.4,490.7 L607,496.5 L636,480.8 L666.2,495.9 L672.2,493.8 L672.2,650 L666.2,648 L636,634.6 L607,648 L601.4,648 Z" stroke="#222" stroke-width="1.1" fill="#fff" />
<line x1="607" y1="496.5" x2="607" y2="648" stroke="#222" stroke-width="0.9" />
<line x1="636" y1="480.8" x2="636" y2="634.6" stroke="#222" stroke-width="1.0" />
<line x1="666.2" y1="495.9" x2="666.2" y2="648" stroke="#222" stroke-width="0.9" />
<line x1="601.4" y1="490.7" x2="601.4" y2="648" stroke="#222" stroke-width="1.1" />
<rect x="601.8" y="611" width="4.6" height="5.2" stroke="#222" stroke-width="0.9" fill="#fff" />
<rect x="601.8" y="634" width="4.6" height="5.2" stroke="#222" stroke-width="0.9" fill="#fff" />
<path d="M672.2,611 L668.5,612.5 L668.5,617 L672.2,616 M672.2,622 L668.5,623.5 L668.5,629 L672.2,628 M672.2,636 L668.5,637.5 L668.5,643 L672.2,642" stroke="#222" stroke-width="0.9" fill="none" />
<line x1="600.6" y1="512" x2="600.6" y2="522" stroke="#222" stroke-width="1.2" />
<ellipse cx="620" cy="497.5" rx="0.95" ry="0.95" stroke="#222" stroke-width="0.4" fill="#222" />
<ellipse cx="620" cy="505.5" rx="0.95" ry="0.95" stroke="#222" stroke-width="0.4" fill="#222" />
<ellipse cx="646" cy="495.5" rx="0.95" ry="0.95" stroke="#222" stroke-width="0.4" fill="#222" />
<ellipse cx="654" cy="509.5" rx="0.95" ry="0.95" stroke="#222" stroke-width="0.4" fill="#222" />
<ellipse cx="650" cy="512.5" rx="0.95" ry="0.95" stroke="#222" stroke-width="0.4" fill="#222" />
<ellipse cx="650" cy="522.5" rx="0.95" ry="0.95" stroke="#222" stroke-width="0.4" fill="#222" />
<ellipse cx="654" cy="537" rx="0.95" ry="0.95" stroke="#222" stroke-width="0.4" fill="#222" />
<ellipse cx="612.5" cy="535.5" rx="0.95" ry="0.95" stroke="#222" stroke-width="0.4" fill="#222" />
<ellipse cx="631" cy="531.5" rx="0.95" ry="0.95" stroke="#222" stroke-width="0.4" fill="#222" />
<ellipse cx="613.8" cy="593.5" rx="0.95" ry="0.95" stroke="#222" stroke-width="0.4" fill="#222" />
<ellipse cx="652.5" cy="552.5" rx="0.95" ry="0.95" stroke="#222" stroke-width="0.4" fill="#222" />
<ellipse cx="650.5" cy="601.5" rx="0.95" ry="0.95" stroke="#222" stroke-width="0.4" fill="#222" />
<ellipse cx="654.5" cy="616.5" rx="0.95" ry="0.95" stroke="#222" stroke-width="0.4" fill="#222" />
<ellipse cx="604" cy="624" rx="0.95" ry="0.95" stroke="#222" stroke-width="0.4" fill="#222" />
<g transform="translate(610.2 515.2) scale(0.9)">
<path d="M0.2,11 L13.7,2 L25.7,8 L25.7,11.5 L12.5,20.5 L0.2,13.6 Z" stroke="#222" stroke-width="1.5" fill="#fff" />
<path d="M0.2,11 L12.5,17.5 L25.7,8 M12.5,17.5 L12.5,20.5" stroke="#222" stroke-width="1.2" fill="none" />
<path d="M6.5,5.6 L14.9,0.2 L22.7,3.8 L22.7,7 L13.7,13 L6.5,8.2 Z" stroke="#222" stroke-width="1.5" fill="#fff" />
<path d="M6.5,5.6 L13.7,9.8 L22.7,3.8 M13.7,9.8 L13.7,13" stroke="#222" stroke-width="1.2" fill="none" />
<path d="M16.5,4.6 L20.4,6.4 M15.2,5.6 L19,7.4 M17.8,3.8 L21.6,5.4" stroke="#222" stroke-width="1.3" fill="none" />
<line x1="1.6" y1="13.2" x2="0.2" y2="15.4" stroke="#222" stroke-width="1.4" />
</g>
<ellipse cx="631.8" cy="531.8" rx="1.0" ry="1.0" stroke="#222" stroke-width="0.5" fill="#222" />
<path d="M610.5,548.5 L615,545 L626.5,546.8 L627.5,557 L622,561.3 L611,558.8 Z" stroke="#222" stroke-width="1.3" fill="#fff" />
<path d="M612.5,548 L612.5,559 M617.5,546 L617.5,550.5 L624.5,551.5 L624.5,559.5 M610.5,553.5 L627.5,555.5 M615,545 L616,549 L626,550.5" stroke="#222" stroke-width="1.4" fill="none" />
<rect x="614.2" y="550.8" width="6.8" height="7" stroke="#222" stroke-width="0.8" fill="#333" />
<path d="M620.5,547 L625.5,547.8 L625.5,551 L620.5,550.2 Z" stroke="#222" stroke-width="0.8" fill="#555" />
<line x1="610" y1="557" x2="608.5" y2="559.5" stroke="#222" stroke-width="1.2" />
<path d="M613,574.5 L622,570.5 L636,572.5 L642,578 L642,585 L634,587 L628,592.5 L617,589.5 L613,585.5 Z" stroke="#222" stroke-width="1.3" fill="#fff" />
<path d="M615.5,575 L615.5,587 M620.5,573 L620.5,590.5 M628,574 L628,592 M613,580.5 L634,583.5 M622,570.5 L623,575 L635,577" stroke="#222" stroke-width="1.4" fill="none" />
<path d="M629.5,574.5 L636,573 L641.5,578.5 L641.5,584.5 L635.5,586 L630.5,581.5 Z" stroke="#222" stroke-width="1.0" fill="#3a3a3a" />
<rect x="616.5" y="576" width="8.5" height="8" stroke="#222" stroke-width="0.8" fill="#2e2e2e" />
<path d="M621,584 L627,585.5 L627,590.5 L621,589 Z" stroke="#222" stroke-width="0.8" fill="#555" />
<path d="M631,589.5 L633.5,595.5 L635.2,591.5" stroke="#222" stroke-width="1.8" fill="none" />
<ellipse cx="632.3" cy="588.5" rx="1.3" ry="1.3" stroke="#222" stroke-width="0.9" fill="#222" />
<path d="M615,605.5 L615,622 Q616,626.4 623.2,626.6 Q630.5,626.4 631.4,622 L631.4,605.5" stroke="#222" stroke-width="1.3" fill="#fff" />
<ellipse cx="623.2" cy="603.6" rx="8.2" ry="4.3" stroke="#222" stroke-width="1.3" fill="#fff" />
<ellipse cx="623.2" cy="603.0" rx="5.8" ry="2.8" stroke="#222" stroke-width="1.6" fill="#4a4a4a" />
<path d="M615,607.5 Q617,612 623.2,612.2 Q629.5,612 631.4,607.5" stroke="#222" stroke-width="1.0" fill="none" />
<path d="M610.3,606 L612.8,609 L615,608" stroke="#222" stroke-width="1.6" fill="none" />
<ellipse cx="645.9" cy="552.8" rx="3.3" ry="4.6" stroke="#222" stroke-width="1.0" fill="#222" transform="rotate(-15 645.9 552.8)"/>
<ellipse cx="645.9" cy="594.2" rx="3.3" ry="4.6" stroke="#222" stroke-width="1.0" fill="#222" transform="rotate(-15 645.9 594.2)"/>
<rect x="653" y="559.5" width="5.6" height="42.5" stroke="#222" stroke-width="0.8" fill="#222" rx="2.6"/>
<path d="M644.5,562 L648.5,561 L649.5,566 L647,567 L648.5,571.5 L645.5,572.5 Z" stroke="#222" stroke-width="0.9" fill="#444" />
<path d="M598.2,650.8 L599.5,653 L622,663.8 L648.4,663.8 L673,651 L674,648.8 L674,792 L648.4,804.7 L622,804.7 L598.2,793 Z" stroke="#222" stroke-width="1.2" fill="#fff" />
<path d="M598.2,650.8 L601,651.2 L622,661.5 L648.4,661.5 L672,649.5" stroke="#222" stroke-width="0.8" fill="none" />
<line x1="622" y1="663.8" x2="622" y2="804.7" stroke="#222" stroke-width="0.9" />
<line x1="648.4" y1="663.8" x2="648.4" y2="804.7" stroke="#222" stroke-width="0.9" />
<line x1="601.5" y1="653.5" x2="601.5" y2="655.5" stroke="#222" stroke-width="1.2" />
<line x1="609" y1="657.5" x2="609" y2="659.5" stroke="#222" stroke-width="1.2" />
<line x1="634.5" y1="664.5" x2="634.5" y2="666.5" stroke="#222" stroke-width="1.2" />
<line x1="660" y1="657.5" x2="660" y2="659.5" stroke="#222" stroke-width="1.2" />
<line x1="668" y1="653.5" x2="668" y2="655.5" stroke="#222" stroke-width="1.2" />
<ellipse cx="600.5" cy="790.5" rx="0.8" ry="0.8" stroke="#222" stroke-width="0.5" fill="#222" />
<ellipse cx="668" cy="790.5" rx="0.8" ry="0.8" stroke="#222" stroke-width="0.5" fill="#222" />
<rect x="622.4" y="679.5" width="25.2" height="32.2" stroke="#1a1a1a" stroke-width="1.4" fill="#fff" />
<rect x="625.1" y="681.8" width="20" height="6.3" stroke="#1a1a1a" stroke-width="0.6" fill="#222" rx="1.4"/>
<rect x="627.2" y="683.5" width="11.2" height="2.9" stroke="#eee" stroke-width="0.3" fill="#f4f4f4" />
<ellipse cx="641.6" cy="685" rx="1.5" ry="1.6" stroke="#fff" stroke-width="0.5" fill="#fff" />
<ellipse cx="642" cy="685" rx="0.7" ry="0.9" stroke="#222" stroke-width="0.3" fill="#222" />
<line x1="623" y1="694.4" x2="647" y2="694.4" stroke="#1a1a1a" stroke-width="1.0" />
<rect x="623.6" y="695.7" width="22.8" height="4.5" stroke="#1a1a1a" stroke-width="0.4" fill="#222" />
<rect x="628" y="696.5" width="1.7" height="2.9" stroke="#fff" stroke-width="0.2" fill="#fff" />
<rect x="634.2" y="696.5" width="1.7" height="2.9" stroke="#fff" stroke-width="0.2" fill="#fff" />
<line x1="640" y1="697" x2="645" y2="697" stroke="#ccc" stroke-width="0.7" />
<line x1="640" y1="698.8" x2="645" y2="698.8" stroke="#999" stroke-width="0.6" />
<rect x="623.9" y="701.6" width="22.2" height="8.7" stroke="#1a1a1a" stroke-width="1.1" fill="#fff" />
<rect x="627.2" y="703.7" width="16.3" height="3.6" stroke="#222" stroke-width="0.3" fill="#222" />
<line x1="629" y1="705.5" x2="642" y2="705.5" stroke="#888" stroke-width="0.5" stroke-dasharray="1.5 1"/>
<rect x="623.1" y="713.4" width="23.7" height="19.9" stroke="#1a1a1a" stroke-width="1.5" fill="#fff" />
<line x1="624" y1="715.4" x2="646" y2="715.4" stroke="#333" stroke-width="1.0" />
<line x1="626" y1="721.6" x2="640.5" y2="721.6" stroke="#555" stroke-width="0.7" />
<line x1="626" y1="727.3" x2="643" y2="727.3" stroke="#777" stroke-width="0.6" />
<path d="M627.3,725.5 A6.6,6.6 0 1 0 637.5,718.2" stroke="#444" stroke-width="0.9" fill="none" />
<line x1="627.5" y1="719.8" x2="629.5" y2="719.2" stroke="#444" stroke-width="0.8" />
<text class="lb" x="713.6" y="649.9" textLength="12.1" lengthAdjust="spacingAndGlyphs">4-C</text>
<path d="M713.0,647 L707,647 L674,671.5" stroke="#4a4a4a" stroke-width="1.0" fill="none" stroke-linecap="butt"/>
<rect x="714.8" y="18.8" width="266.3" height="461" stroke="#111" stroke-width="1.6" fill="none" stroke-linejoin="miter"/>
<path d="M817,74 L823.6,78.5 L855.4,61.5 L888.4,79 L895,76 L895,241 L888.4,239 L855.4,231 L823.6,244.5 L817,246 Z" stroke="none" stroke-width="0.1" fill="#fff" />
<line x1="817" y1="74" x2="817" y2="246" stroke="#555" stroke-width="1.0" stroke-dasharray="18 5.5 1.2 5.5 1.2 5.5"/>
<line x1="823.6" y1="78.5" x2="823.6" y2="244.5" stroke="#555" stroke-width="1.0" stroke-dasharray="19 7 1.2 5 1.2 7" stroke-dashoffset="-1"/>
<path d="M817,74 L818.2,72 L823.6,78.5" stroke="#555" stroke-width="1.0" fill="none" />
<path d="M817,246 L823.6,244.5" stroke="#555" stroke-width="1.0" fill="none" />
<line x1="888.4" y1="79" x2="888.4" y2="239" stroke="#555" stroke-width="1.0" stroke-dasharray="14 6 1.2 5.5 1.2 6"/>
<line x1="895" y1="76" x2="895" y2="241" stroke="#555" stroke-width="1.0" stroke-dasharray="13 6.5 1.2 5 1.2 6.5" stroke-dashoffset="-2"/>
<path d="M888.4,79 L894,73 L895,76" stroke="#555" stroke-width="1.0" fill="none" />
<path d="M888.4,239 L895,241" stroke="#555" stroke-width="1.0" fill="none" />
<path d="M855.4,61.5 L823.6,78.5" stroke="#555" stroke-width="1.0" fill="none" stroke-dasharray="19 6 1.2 5.5 1.2 40"/>
<path d="M855.4,61.5 L888.4,79" stroke="#555" stroke-width="1.0" fill="none" stroke-dasharray="0 5 1.2 5.5 1.2 6 40 0"/>
<line x1="855.4" y1="61.5" x2="855.4" y2="231" stroke="#555" stroke-width="1.0" stroke-dasharray="17 6 1.2 5 1.2 6"/>
<path d="M855.4,231 L823.6,244.5" stroke="#555" stroke-width="1.0" fill="none" stroke-dasharray="13 5 1.2 5 1.2 40"/>
<path d="M855.4,231 L888.4,239" stroke="#555" stroke-width="1.0" fill="none" stroke-dasharray="13 5 1.2 5 1.2 40"/>
<ellipse cx="829" cy="84.0" rx="0.6" ry="0.6" stroke="#555" stroke-width="0.3" fill="#555" />
<ellipse cx="837.5" cy="80.4" rx="0.6" ry="0.6" stroke="#555" stroke-width="0.3" fill="#555" />
<ellipse cx="846" cy="76.9" rx="0.6" ry="0.6" stroke="#555" stroke-width="0.3" fill="#555" />
<ellipse cx="829" cy="112.0" rx="0.6" ry="0.6" stroke="#555" stroke-width="0.3" fill="#555" />
<ellipse cx="837.5" cy="108.4" rx="0.6" ry="0.6" stroke="#555" stroke-width="0.3" fill="#555" />
<ellipse cx="846" cy="104.9" rx="0.6" ry="0.6" stroke="#555" stroke-width="0.3" fill="#555" />
<ellipse cx="829" cy="146.0" rx="0.6" ry="0.6" stroke="#555" stroke-width="0.3" fill="#555" />
<ellipse cx="837.5" cy="142.4" rx="0.6" ry="0.6" stroke="#555" stroke-width="0.3" fill="#555" />
<ellipse cx="846" cy="138.9" rx="0.6" ry="0.6" stroke="#555" stroke-width="0.3" fill="#555" />
<ellipse cx="829" cy="163.0" rx="0.6" ry="0.6" stroke="#555" stroke-width="0.3" fill="#555" />
<ellipse cx="837.5" cy="159.4" rx="0.6" ry="0.6" stroke="#555" stroke-width="0.3" fill="#555" />
<ellipse cx="846" cy="155.9" rx="0.6" ry="0.6" stroke="#555" stroke-width="0.3" fill="#555" />
<ellipse cx="829" cy="192.0" rx="0.6" ry="0.6" stroke="#555" stroke-width="0.3" fill="#555" />
<ellipse cx="837.5" cy="188.4" rx="0.6" ry="0.6" stroke="#555" stroke-width="0.3" fill="#555" />
<ellipse cx="846" cy="184.9" rx="0.6" ry="0.6" stroke="#555" stroke-width="0.3" fill="#555" />
<ellipse cx="829" cy="212.0" rx="0.6" ry="0.6" stroke="#555" stroke-width="0.3" fill="#555" />
<ellipse cx="837.5" cy="208.4" rx="0.6" ry="0.6" stroke="#555" stroke-width="0.3" fill="#555" />
<ellipse cx="846" cy="204.9" rx="0.6" ry="0.6" stroke="#555" stroke-width="0.3" fill="#555" />
<ellipse cx="824" cy="102" rx="0.6" ry="0.6" stroke="#555" stroke-width="0.3" fill="#555" />
<ellipse cx="824" cy="108" rx="0.6" ry="0.6" stroke="#555" stroke-width="0.3" fill="#555" />
<ellipse cx="824" cy="150" rx="0.6" ry="0.6" stroke="#555" stroke-width="0.3" fill="#555" />
<ellipse cx="824" cy="198" rx="0.6" ry="0.6" stroke="#555" stroke-width="0.3" fill="#555" />
<ellipse cx="864" cy="68.0" rx="0.6" ry="0.6" stroke="#555" stroke-width="0.3" fill="#555" />
<ellipse cx="873" cy="71.8" rx="0.6" ry="0.6" stroke="#555" stroke-width="0.3" fill="#555" />
<ellipse cx="882" cy="75.6" rx="0.6" ry="0.6" stroke="#555" stroke-width="0.3" fill="#555" />
<ellipse cx="864" cy="92.0" rx="0.6" ry="0.6" stroke="#555" stroke-width="0.3" fill="#555" />
<ellipse cx="873" cy="95.8" rx="0.6" ry="0.6" stroke="#555" stroke-width="0.3" fill="#555" />
<ellipse cx="882" cy="99.6" rx="0.6" ry="0.6" stroke="#555" stroke-width="0.3" fill="#555" />
<ellipse cx="864" cy="122.0" rx="0.6" ry="0.6" stroke="#555" stroke-width="0.3" fill="#555" />
<ellipse cx="873" cy="125.8" rx="0.6" ry="0.6" stroke="#555" stroke-width="0.3" fill="#555" />
<ellipse cx="882" cy="129.6" rx="0.6" ry="0.6" stroke="#555" stroke-width="0.3" fill="#555" />
<ellipse cx="864" cy="150.0" rx="0.6" ry="0.6" stroke="#555" stroke-width="0.3" fill="#555" />
<ellipse cx="873" cy="153.8" rx="0.6" ry="0.6" stroke="#555" stroke-width="0.3" fill="#555" />
<ellipse cx="882" cy="157.6" rx="0.6" ry="0.6" stroke="#555" stroke-width="0.3" fill="#555" />
<ellipse cx="864" cy="178.0" rx="0.6" ry="0.6" stroke="#555" stroke-width="0.3" fill="#555" />
<ellipse cx="873" cy="181.8" rx="0.6" ry="0.6" stroke="#555" stroke-width="0.3" fill="#555" />
<ellipse cx="882" cy="185.6" rx="0.6" ry="0.6" stroke="#555" stroke-width="0.3" fill="#555" />
<ellipse cx="864" cy="200.0" rx="0.6" ry="0.6" stroke="#555" stroke-width="0.3" fill="#555" />
<ellipse cx="873" cy="203.8" rx="0.6" ry="0.6" stroke="#555" stroke-width="0.3" fill="#555" />
<ellipse cx="882" cy="207.6" rx="0.6" ry="0.6" stroke="#555" stroke-width="0.3" fill="#555" />
<line x1="817" y1="196" x2="817" y2="246" stroke="#555" stroke-width="1.0" />
<line x1="823.6" y1="188" x2="823.6" y2="244.5" stroke="#555" stroke-width="1.0" />
<line x1="888.4" y1="191" x2="888.4" y2="239" stroke="#555" stroke-width="1.0" />
<line x1="895" y1="185" x2="895" y2="241" stroke="#555" stroke-width="1.0" />
<path d="M817,203 L823.6,205.6 L823.6,212.6 L817,210 Z" stroke="#555" stroke-width="0.9" fill="#fff" />
<path d="M888.4,207 L895,204.2 L895,210.4 L888.4,213.2 Z" stroke="#555" stroke-width="0.9" fill="#fff" />
<ellipse cx="819" cy="215" rx="0.5" ry="0.5" stroke="#555" stroke-width="0.3" fill="#555" />
<ellipse cx="893" cy="208" rx="0.5" ry="0.5" stroke="#555" stroke-width="0.3" fill="#555" />
<path d="M817,225 L823.6,227.6 L823.6,234.6 L817,232 Z" stroke="#555" stroke-width="0.9" fill="#fff" />
<path d="M888.4,229 L895,226.2 L895,232.4 L888.4,235.2 Z" stroke="#555" stroke-width="0.9" fill="#fff" />
<ellipse cx="819" cy="237" rx="0.5" ry="0.5" stroke="#555" stroke-width="0.3" fill="#555" />
<ellipse cx="893" cy="230" rx="0.5" ry="0.5" stroke="#555" stroke-width="0.3" fill="#555" />
<ellipse cx="866" cy="140" rx="3.0" ry="4.3" stroke="#555" stroke-width="0.9" fill="none" transform="rotate(-15 866 140)"/>
<ellipse cx="866.5" cy="185.5" rx="3.0" ry="4.3" stroke="#555" stroke-width="0.9" fill="none" transform="rotate(-15 866.5 185.5)"/>
<ellipse cx="849.5" cy="110.5" rx="1.0" ry="1.4" stroke="#555" stroke-width="0.7" fill="none" />
<line x1="816.3" y1="97" x2="816.3" y2="107" stroke="#333" stroke-width="1.6" />
<path d="M774.0,69.5 L777.5,66.7 L782.0,68.7 L780.1,70.5 L780.1,79.8 L778.0,80.7 L774.0,78.0 Z" stroke="#222" stroke-width="1.1" fill="#fff" />
<path d="M774.7,70.5 L774.7,77.5 M776.3,69.5 L776.3,79.0 M778.1,69.7 L778.1,80.0" stroke="#222" stroke-width="1.1" fill="none" />
<path d="M777.5,66.7 L779.5,65.1 L783.5,67.1 L782.0,68.7" stroke="#222" stroke-width="1.0" fill="#555" />
<path d="M780.1,70.5 L789.4,64.8 L803.9,72.6 L803.4,82.4 L792.0,87.6 L780.1,79.8 Z" stroke="#222" stroke-width="1.3" fill="#fff" />
<path d="M780.1,70.5 L792.5,78.6 L803.9,72.6 M792.5,78.6 L792.0,87.6" stroke="#222" stroke-width="1.2" fill="none" />
<path d="M785.5,70.8 L791.0,67.5 L799.5,72.5 L793.5,75.8 Z" stroke="#333" stroke-width="0.7" fill="#b5b5b5" />
<path d="M788.5,71.0 L794.5,74.5 M790.5,69.5 L797.0,73.1 M792.5,68.7 L798.0,71.9" stroke="#333" stroke-width="0.9" fill="none" />
<path d="M795.5,79.7 L801.0,76.9 L800.8,81.5 L795.3,84.3 Z" stroke="#666" stroke-width="0.6" fill="#e4e4e4" />
<path d="M796.7,80.5 L796.7,82.5 M799.1,79.1 L799.1,81.3" stroke="#222" stroke-width="1.1" fill="none" />
<path d="M777.5,124.6 L773.3,124.4 Q771.8,126.6 773.3,129.1 L777.5,129.5" stroke="#222" stroke-width="1.2" fill="#fff" />
<path d="M777.5,120.2 L789.4,116.1 L796.7,122.3 L796.7,132.6 L784.3,137.8 L777.5,133.7 Z" stroke="#222" stroke-width="1.3" fill="#fff" />
<path d="M777.5,120.2 L784.3,127.0 L796.7,122.3 M784.3,127.0 L784.3,137.8" stroke="#222" stroke-width="1.2" fill="none" />
<path d="M779.3,120.7 L789.8,117.3 M781.1,122.1 L791.4,118.7 M782.8,123.7 L793.3,120.1" stroke="#444" stroke-width="0.8" fill="none" />
<path d="M786.8,127.9 L794.6,124.9 L794.6,131.9 L786.8,135.0 Z" stroke="#222" stroke-width="1.0" fill="#fff" />
<path d="M788.3,129.6 L793.1,127.7 M788.3,132.7 L793.1,130.8 M790.6,128.5 L790.6,132.1" stroke="#222" stroke-width="0.9" fill="none" />
<path d="M779.0,124.1 L779.0,133.6 M780.8,125.9 L780.8,135.1 M782.6,127.7 L782.6,136.5" stroke="#444" stroke-width="0.8" fill="none" />
<path d="M796.7,129.6 L798.1,130.6 L797.0,132.5" stroke="#222" stroke-width="1.1" fill="none" />
<path d="M801.5,118 L806,115.5 L813.5,118 L813.5,128 L809,130.5 L801.5,128 Z" stroke="#222" stroke-width="1.0" fill="#fff" />
<path d="M801.5,118 L809,120.5 L813.5,118 M809,120.5 L809,130.5" stroke="#222" stroke-width="0.9" fill="none" />
<line x1="804" y1="129" x2="804" y2="134.5" stroke="#222" stroke-width="1.0" />
<line x1="811" y1="129.5" x2="811" y2="133" stroke="#222" stroke-width="1.0" />
<line x1="806.5" y1="130" x2="806.5" y2="135.5" stroke="#222" stroke-width="1.0" />
<g transform="translate(771.2 147.4) scale(1.000)">
<line x1="1.1" y1="7.2" x2="1.1" y2="16.4" stroke="#222" stroke-width="1.3" />
<path d="M0,16.4 L2.4,15.4 L2.4,17 L0.4,18 Z" stroke="#222" stroke-width="0.8" fill="#222" />
<path d="M0.7,6.1 L10.4,1.4 L11,3 L1.6,7.8 Z" stroke="#222" stroke-width="1.0" fill="#fff" />
<path d="M0.7,6.1 L10.4,1.4" stroke="#1e1e1e" stroke-width="1.9" fill="none" />
<path d="M7.2,6.8 L14.4,2.9 L19.8,6.5 L19.8,15.8 L13,19.8 L7.2,16.5 Z" stroke="#222" stroke-width="1.3" fill="#fff" />
<path d="M7.2,6.8 L13,10.8 L19.8,6.5 M13,10.8 L13,19.8" stroke="#222" stroke-width="1.2" fill="none" />
<path d="M9,5.9 L15.3,3.6 M10.8,7.2 L17.2,4.8" stroke="#222" stroke-width="1.5" fill="none" />
<path d="M8.6,9.4 L8.6,16.6 M10.6,10.6 L10.6,18 M15.2,11.3 L15.2,17.6 M17.4,9.8 L17.4,16.2" stroke="#222" stroke-width="1.4" fill="none" />
<rect x="8.9" y="11.2" width="1.6" height="4" stroke="#222" stroke-width="0.3" fill="#555" />
<rect x="15.5" y="12" width="1.6" height="3.6" stroke="#222" stroke-width="0.3" fill="#555" />
<path d="M17.2,17 L19.8,15.6 L19.8,17.4 L17.6,18.6 Z" stroke="#222" stroke-width="0.8" fill="#222" />
<path d="M4,14 L7.2,15.5" stroke="#222" stroke-width="1.2" fill="none" />
</g>
<g transform="translate(799.3 174.4) scale(1.000)">
<path d="M3.6,1.2 L6.6,0 L14.6,4.4 L16.1,7.2 L16.1,12.6 L11.6,15.1 L2.6,10.6 Z" stroke="#222" stroke-width="1.2" fill="#fff" />
<path d="M6.6,0 L7.8,3.6 L11.4,13.8 M7.8,3.6 L14.6,4.4" stroke="#222" stroke-width="1.0" fill="none" />
<path d="M11.8,6.2 L15.4,6 L15.6,12.2 L12.4,14.2 Z" stroke="#222" stroke-width="0.8" fill="#3a3a3a" />
<line x1="13.6" y1="8" x2="13.8" y2="11.8" stroke="#ccc" stroke-width="0.7" />
<ellipse cx="3.5" cy="6.4" rx="1.9" ry="4.2" stroke="#222" stroke-width="1.2" fill="#fff" transform="rotate(-14 3.5 6.4)"/>
<ellipse cx="3.9" cy="6.3" rx="0.9" ry="2.6" stroke="#222" stroke-width="0.7" fill="#999" transform="rotate(-14 3.9 6.3)"/>
<line x1="0" y1="4.4" x2="2" y2="5" stroke="#222" stroke-width="1.2" />
</g>
<g transform="translate(774.8 177.6) scale(1.000)">
<path d="M0.6,5.2 L8.6,0.4 L12.2,1.6 L14,0.8 L21.9,6.6 L21.9,18.4 L11.4,24.1 L0.6,17.2 Z" stroke="#222" stroke-width="1.3" fill="#fff" />
<path d="M0.6,5.2 L11.6,11.6 L21.9,6.6 M11.6,11.6 L11.4,24.1" stroke="#222" stroke-width="1.2" fill="none" />
<path d="M5.4,4.6 L12.6,1.8 L19.2,6.4 L12,9.6 Z" stroke="#222" stroke-width="0.7" fill="#2e2e2e" />
<path d="M7.6,4.2 L14.2,8.2 M10,3.2 L16.6,7.2" stroke="#ddd" stroke-width="0.8" fill="none" />
<path d="M2.2,7.4 L2.2,17.2 M4.6,8.8 L4.6,18.8 M8.6,11.2 L8.6,21.4" stroke="#222" stroke-width="1.4" fill="none" />
<rect x="2.6" y="10" width="1.8" height="5.6" stroke="#222" stroke-width="0.3" fill="#444" />
<rect x="5.2" y="11.6" width="2.6" height="6" stroke="#222" stroke-width="0.3" fill="#444" />
<path d="M0.6,12 L11.5,18.2" stroke="#222" stroke-width="1.0" fill="none" />
<path d="M14.4,12.2 L14.4,16 M17.4,10.8 L17.4,14.4 M14.4,18.4 L14.4,20.8 M17.4,16.8 L17.4,19.2" stroke="#333" stroke-width="1.3" fill="none" />
<path d="M11.5,16.8 L21.9,11.6" stroke="#555" stroke-width="0.8" fill="none" />
</g>
<path d="M777.4,213.2 L777.4,235.9 Q777.6999999999999,240.4 786.5,240.4 Q795.3000000000001,240.4 795.6,235.9 L795.6,213.2" stroke="#222" stroke-width="1.4" fill="#fff" />
<ellipse cx="786.5" cy="213.2" rx="9.1" ry="4.6" stroke="#222" stroke-width="1.5" fill="#fff" />
<ellipse cx="786.8" cy="212.79999999999998" rx="5.4" ry="3.0" stroke="#222" stroke-width="0.8" fill="#2c2c2c" transform="rotate(-8 786.5 212.79999999999998)"/>
<path d="M783.5,212.2 L785.5,213.6 M787.5,211.2 L789.9,212.2 M786.0,212.0 L787.5,214.0" stroke="#e8e8e8" stroke-width="0.9" fill="none" />
<path d="M905.5,100 L910,96 L925,104 L925,121.5 L921,122 L905.5,114 Z" stroke="#222" stroke-width="1.0" fill="#fff" />
<path d="M908,102 L922,109.5 L922,119.5 L908,112 Z" stroke="#222" stroke-width="0.9" fill="#fff" />
<path d="M905.5,100 L908,102 M925,104 L922,109.5 M921,122 L922,119.5" stroke="#222" stroke-width="0.8" fill="none" />
<path d="M912,111 L916,113 L916,117 M918,110 L920,116" stroke="#222" stroke-width="1.2" fill="none" />
<ellipse cx="910" cy="104.8" rx="0.8" ry="0.8" stroke="#222" stroke-width="0.4" fill="#222" />
<ellipse cx="920.5" cy="118" rx="0.8" ry="0.8" stroke="#222" stroke-width="0.4" fill="#222" />
<path d="M898,137.5 L903,132 L913.6,136.5 L913.6,147.5 L909,151.5 L898,147 Z" stroke="#222" stroke-width="1.0" fill="#fff" />
<path d="M898,137.5 L909,141.5 L913.6,136.5 M909,141.5 L909,151.5" stroke="#222" stroke-width="0.9" fill="none" />
<ellipse cx="903.2" cy="144.3" rx="0.8" ry="0.8" stroke="#222" stroke-width="0.4" fill="#222" />
<ellipse cx="901" cy="138.3" rx="0.6" ry="0.6" stroke="#222" stroke-width="0.3" fill="#222" />
<ellipse cx="907" cy="149" rx="0.6" ry="0.6" stroke="#222" stroke-width="0.3" fill="#222" />
<line x1="900.6" y1="180" x2="900.6" y2="188" stroke="#222" stroke-width="2.4" />
<line x1="900.6" y1="181.5" x2="900.6" y2="186.5" stroke="#ccc" stroke-width="0.8" />
<path d="M906.4,195.5 L911.4,192 L918.4,194 L918.4,201 L912.9,204 L906.4,202 Z" stroke="#222" stroke-width="1.0" fill="#fff" />
<path d="M906.4,195.5 L912.9,197.5 L918.4,194 M912.9,197.5 L912.9,204" stroke="#222" stroke-width="1.0" fill="none" />
<text class="lj" x="737.5" y="32.1" textLength="15.9" lengthAdjust="spacingAndGlyphs">17-J</text>
<path d="M754.0,29.2 L760,29.2 L790,64.5" stroke="#4a4a4a" stroke-width="1.0" fill="none" stroke-linecap="butt"/>
<text class="lj" x="741.4" y="76.1" textLength="13.2" lengthAdjust="spacingAndGlyphs">8-J</text>
<path d="M755.2,73.2 L761,73.2 L804.5,116" stroke="#4a4a4a" stroke-width="1.0" fill="none" stroke-linecap="butt"/>
<text class="lj" x="722.5" y="109.6" textLength="12.0" lengthAdjust="spacingAndGlyphs">2-J</text>
<path d="M735.1,106.7 L741,106.7 L780.5,120" stroke="#4a4a4a" stroke-width="1.0" fill="none" stroke-linecap="butt"/>
<text class="lj" x="722.5" y="132.7" textLength="9.9" lengthAdjust="spacingAndGlyphs">1-J</text>
<path d="M733.0,129.8 L739,129.8 L777.5,150" stroke="#4a4a4a" stroke-width="1.0" fill="none" stroke-linecap="butt"/>
<text class="lj" x="725" y="166.1" textLength="12.5" lengthAdjust="spacingAndGlyphs">3-J</text>
<path d="M738.1,163.2 L744,163.2 L802,177" stroke="#4a4a4a" stroke-width="1.0" fill="none" stroke-linecap="butt"/>
<text class="lj" x="725.5" y="186.7" textLength="12.9" lengthAdjust="spacingAndGlyphs">4-J</text>
<path d="M739.0,183.8 L745,183.8 L775,181.5" stroke="#4a4a4a" stroke-width="1.0" fill="none" stroke-linecap="butt"/>
<text class="lj" x="748" y="233.1" textLength="12" lengthAdjust="spacingAndGlyphs">5-J</text>
<path d="M762,230.2 L766,230.5 L777.4,232.8" stroke="#4a4a4a" stroke-width="1.0" fill="none" stroke-linecap="butt"/>
<text class="lj" x="938" y="77.1" textLength="12" lengthAdjust="spacingAndGlyphs">9-J</text>
<path d="M937.4,74.2 L931.5,74.2 L918.5,100.5" stroke="#4a4a4a" stroke-width="1.0" fill="none" stroke-linecap="butt"/>
<text class="lj" x="934" y="127.1" textLength="15" lengthAdjust="spacingAndGlyphs">10-J</text>
<path d="M933.4,124.2 L927.5,124.2 L913.6,141" stroke="#4a4a4a" stroke-width="1.0" fill="none" stroke-linecap="butt"/>
<text class="lj" x="923.5" y="166.1" textLength="12.9" lengthAdjust="spacingAndGlyphs">7-J</text>
<path d="M922.9,163.2 L917,163.2 L901.6,181" stroke="#4a4a4a" stroke-width="1.0" fill="none" stroke-linecap="butt"/>
<text class="lj" x="932.5" y="222.1" textLength="15.0" lengthAdjust="spacingAndGlyphs">18-J</text>
<path d="M931.9,219.2 L926.5,219.2 L916.6,198" stroke="#4a4a4a" stroke-width="1.0" fill="none" stroke-linecap="butt"/>
<path d="M813.4,279.5 L806.5,447.5 L842.5,447.5 L857.5,440 L868,275 L850,278 Z" stroke="none" stroke-width="0.1" fill="#fff" />
<path d="M813.4,279.5 L806.5,447.5" stroke="#555" stroke-width="0.9" fill="none" stroke-dasharray="5 7 1 7"/>
<path d="M850,278 L842.5,447.5" stroke="#555" stroke-width="0.9" fill="none" stroke-dasharray="9 4 1 4"/>
<path d="M868,275 L857.5,440" stroke="#555" stroke-width="0.9" fill="none" stroke-dasharray="14 3 1 3"/>
<path d="M842.5,447.5 L857.5,440" stroke="#555" stroke-width="0.9" fill="none" />
<path d="M806.5,447.5 L842.5,447.5" stroke="#555" stroke-width="0.9" fill="none" stroke-dasharray="6 6 1 6"/>
<path d="M806.5,447.5 L806.7,442" stroke="#555" stroke-width="0.9" fill="none" />
<path d="M850,278 L868,273" stroke="#555" stroke-width="0.9" fill="none" />
<path d="M859,257 L863.5,257 L868,272 L868,276 M859,257 L860,276" stroke="#555" stroke-width="0.9" fill="none" />
<path d="M813.4,279.5 L850,278" stroke="#555" stroke-width="0.9" fill="none" stroke-dasharray="3 9 14 3"/>
<ellipse cx="809.5" cy="444.5" rx="0.7" ry="0.7" stroke="#555" stroke-width="0.4" fill="#555" />
<ellipse cx="818" cy="281.5" rx="0.9" ry="1.3" stroke="#555" stroke-width="0.6" fill="none" />
<ellipse cx="831" cy="281" rx="0.9" ry="1.3" stroke="#555" stroke-width="0.6" fill="none" />
<ellipse cx="860.5" cy="277" rx="0.8" ry="0.8" stroke="#222" stroke-width="0.4" fill="#333" />
<path d="M853,299 L859,296 L859,301.5 L853,304.5 Z" stroke="#444" stroke-width="0.9" fill="none" />
<ellipse cx="853.5" cy="292.5" rx="0.7" ry="0.7" stroke="#222" stroke-width="0.4" fill="#333" />
<ellipse cx="858.5" cy="296" rx="0.7" ry="0.7" stroke="#222" stroke-width="0.4" fill="#333" />
<ellipse cx="857.5" cy="306.5" rx="0.7" ry="0.7" stroke="#222" stroke-width="0.4" fill="#333" />
<ellipse cx="851.5" cy="318" rx="0.7" ry="0.7" stroke="#222" stroke-width="0.4" fill="#333" />
<ellipse cx="856.5" cy="316" rx="0.7" ry="0.7" stroke="#222" stroke-width="0.4" fill="#333" />
<ellipse cx="853.5" cy="323" rx="0.7" ry="0.7" stroke="#222" stroke-width="0.4" fill="#333" />
<ellipse cx="858.5" cy="321" rx="0.7" ry="0.7" stroke="#222" stroke-width="0.4" fill="#333" />
<ellipse cx="866" cy="296" rx="0.7" ry="0.7" stroke="#222" stroke-width="0.4" fill="#333" />
<ellipse cx="866" cy="301" rx="0.7" ry="0.7" stroke="#222" stroke-width="0.4" fill="#333" />
<line x1="850.6" y1="314" x2="850.6" y2="320" stroke="#333" stroke-width="1.2" />
<ellipse cx="848.5" cy="346.0" rx="0.6" ry="0.6" stroke="#555" stroke-width="0.3" fill="#555" />
<ellipse cx="852.1" cy="344.8" rx="0.6" ry="0.6" stroke="#555" stroke-width="0.3" fill="#555" />
<ellipse cx="855.7" cy="343.6" rx="0.6" ry="0.6" stroke="#555" stroke-width="0.3" fill="#555" />
<ellipse cx="859.3" cy="342.4" rx="0.6" ry="0.6" stroke="#555" stroke-width="0.3" fill="#555" />
<ellipse cx="848.5" cy="350.5" rx="0.6" ry="0.6" stroke="#555" stroke-width="0.3" fill="#555" />
<ellipse cx="852.1" cy="349.3" rx="0.6" ry="0.6" stroke="#555" stroke-width="0.3" fill="#555" />
<ellipse cx="855.7" cy="348.1" rx="0.6" ry="0.6" stroke="#555" stroke-width="0.3" fill="#555" />
<ellipse cx="859.3" cy="346.9" rx="0.6" ry="0.6" stroke="#555" stroke-width="0.3" fill="#555" />
<ellipse cx="848.5" cy="355.0" rx="0.6" ry="0.6" stroke="#555" stroke-width="0.3" fill="#555" />
<ellipse cx="852.1" cy="353.8" rx="0.6" ry="0.6" stroke="#555" stroke-width="0.3" fill="#555" />
<ellipse cx="855.7" cy="352.6" rx="0.6" ry="0.6" stroke="#555" stroke-width="0.3" fill="#555" />
<ellipse cx="859.3" cy="351.4" rx="0.6" ry="0.6" stroke="#555" stroke-width="0.3" fill="#555" />
<path d="M784.5,299 Q789.5,286 801,280" stroke="#222" stroke-width="1.8" fill="none" />
<path d="M781.5,312 Q786.5,299 802,293.5" stroke="#222" stroke-width="1.8" fill="none" />
<path d="M783.5,325.5 Q788.5,312.5 801,306" stroke="#222" stroke-width="1.8" fill="none" />
<ellipse cx="803" cy="278.6" rx="2.3" ry="1.9" stroke="#222" stroke-width="1.1" fill="#888" />
<path d="M804.5,277.40000000000003 L807.2,279.40000000000003 L804.5,280.20000000000005 Z" stroke="#222" stroke-width="0.6" fill="#222" />
<ellipse cx="804.3" cy="292" rx="2.76" ry="2.28" stroke="#222" stroke-width="1.1" fill="#888" />
<path d="M806.0999999999999,290.56 L809.3399999999999,292.96 L806.0999999999999,293.92 Z" stroke="#222" stroke-width="0.6" fill="#222" />
<ellipse cx="803.5" cy="304.5" rx="2.3" ry="1.9" stroke="#222" stroke-width="1.1" fill="#888" />
<path d="M805.0,303.3 L807.7,305.3 L805.0,306.1 Z" stroke="#222" stroke-width="0.6" fill="#222" />
<ellipse cx="884.9" cy="302.0" rx="3.0" ry="3.3" stroke="#222" stroke-width="1.0" fill="#fff" />
<ellipse cx="883.0" cy="302.90000000000003" rx="2.9" ry="3.2" stroke="#222" stroke-width="1.5" fill="#777" />
<ellipse cx="882.9" cy="302.90000000000003" rx="1.2" ry="1.5" stroke="#222" stroke-width="0.7" fill="#ccc" />
<path d="M883.4,299.6 L885.2,298.8 M883.8000000000001,306.0 L885.6,305.20000000000005" stroke="#222" stroke-width="0.9" fill="none" />
<ellipse cx="884.9" cy="314.9" rx="3.0" ry="3.3" stroke="#222" stroke-width="1.0" fill="#fff" />
<ellipse cx="883.0" cy="315.8" rx="2.9" ry="3.2" stroke="#222" stroke-width="1.5" fill="#777" />
<ellipse cx="882.9" cy="315.8" rx="1.2" ry="1.5" stroke="#222" stroke-width="0.7" fill="#ccc" />
<path d="M883.4,312.5 L885.2,311.7 M883.8000000000001,318.9 L885.6,318.1" stroke="#222" stroke-width="0.9" fill="none" />
<ellipse cx="883.6999999999999" cy="327.4" rx="3.0" ry="3.3" stroke="#222" stroke-width="1.0" fill="#fff" />
<ellipse cx="881.8" cy="328.3" rx="2.9" ry="3.2" stroke="#222" stroke-width="1.5" fill="#777" />
<ellipse cx="881.6999999999999" cy="328.3" rx="1.2" ry="1.5" stroke="#222" stroke-width="0.7" fill="#ccc" />
<path d="M882.1999999999999,325.0 L884.0,324.2 M882.6,331.4 L884.4,330.6" stroke="#222" stroke-width="0.9" fill="none" />
<path d="M919,356 L925,358" stroke="#222" stroke-width="1.2" fill="none" />
<path d="M924,357.6 L930.5,359.8" stroke="#222" stroke-width="2.6" fill="none" />
<path d="M925,358 L929.5,359.5" stroke="#ccc" stroke-width="0.8" fill="none" />
<path d="M907,362 L913,364" stroke="#222" stroke-width="1.2" fill="none" />
<path d="M912,363.6 L918.5,365.8" stroke="#222" stroke-width="2.6" fill="none" />
<path d="M913,364 L917.5,365.5" stroke="#ccc" stroke-width="0.8" fill="none" />
<path d="M895,368.6 L901,370.6" stroke="#222" stroke-width="1.2" fill="none" />
<path d="M900,370.20000000000005 L906.5,372.40000000000003" stroke="#222" stroke-width="2.6" fill="none" />
<path d="M901,370.6 L905.5,372.1" stroke="#ccc" stroke-width="0.8" fill="none" />
<path d="M928,366.5 L934,368.5" stroke="#222" stroke-width="1.2" fill="none" />
<path d="M933,368.1 L939.5,370.3" stroke="#222" stroke-width="2.6" fill="none" />
<path d="M934,368.5 L938.5,370.0" stroke="#ccc" stroke-width="0.8" fill="none" />
<path d="M915.5,371.6 L921.5,373.6" stroke="#222" stroke-width="1.2" fill="none" />
<path d="M920.5,373.20000000000005 L927.0,375.40000000000003" stroke="#222" stroke-width="2.6" fill="none" />
<path d="M921.5,373.6 L926.0,375.1" stroke="#ccc" stroke-width="0.8" fill="none" />
<path d="M903.4,377 L909.4,379" stroke="#222" stroke-width="1.2" fill="none" />
<path d="M908.4,378.6 L914.9,380.8" stroke="#222" stroke-width="2.6" fill="none" />
<path d="M909.4,379 L913.9,380.5" stroke="#ccc" stroke-width="0.8" fill="none" />
<text class="lj" x="741" y="256.5" textLength="15" lengthAdjust="spacingAndGlyphs">15-J</text>
<path d="M756.6,253.6 L763,253.6 Q768,254 772,257.5 L802,278" stroke="#4a4a4a" stroke-width="1.0" fill="none" />
<text class="lj" x="739" y="332.7" textLength="15" lengthAdjust="spacingAndGlyphs">16-J</text>
<path d="M754.6,329.8 L761,329.8 Q766,329.5 769,325 L801,290" stroke="#4a4a4a" stroke-width="1.0" fill="none" />
<text class="lj" x="745" y="371.7" textLength="15" lengthAdjust="spacingAndGlyphs">15-J</text>
<path d="M760.6,368.8 L767,368.8 Q771,368.5 773,364 L801,305.5" stroke="#4a4a4a" stroke-width="1.0" fill="none" />
<text class="lj" x="947.5" y="283.5" textLength="15.9" lengthAdjust="spacingAndGlyphs">14-J</text>
<path d="M946.9,280.6 L941.5,280.6 L886.5,301.4" stroke="#4a4a4a" stroke-width="1.0" fill="none" stroke-linecap="butt"/>
<path d="M941.5,280.6 L886.5,314" stroke="#4a4a4a" stroke-width="1.0" fill="none" stroke-linecap="butt"/>
<path d="M941.5,280.6 L885,326.6" stroke="#4a4a4a" stroke-width="1.0" fill="none" stroke-linecap="butt"/>
<text class="lj" x="958.6" y="339.1" textLength="12.9" lengthAdjust="spacingAndGlyphs">11-J</text>
<path d="M958.0,336.2 L952.5,336.2 L930.4,357.5" stroke="#4a4a4a" stroke-width="1.0" fill="none" stroke-linecap="butt"/>
<path d="M952.5,336.2 L917.5,363.5" stroke="#4a4a4a" stroke-width="1.0" fill="none" stroke-linecap="butt"/>
<text class="lj" x="949" y="423.6" textLength="15" lengthAdjust="spacingAndGlyphs">13-J</text>
<path d="M948.4,420.7 L942.5,420.7 L926.5,375.5" stroke="#4a4a4a" stroke-width="1.0" fill="none" stroke-linecap="butt"/>
<path d="M942.5,420.7 L939,371" stroke="#4a4a4a" stroke-width="1.0" fill="none" stroke-linecap="butt"/>
<text class="lj" x="872.5" y="440.1" textLength="15.0" lengthAdjust="spacingAndGlyphs">12-J</text>
<path d="M888.1,437.2 L894.5,437.2 L904,380" stroke="#4a4a4a" stroke-width="1.0" fill="none" stroke-linecap="butt"/>
<path d="M894.5,437.2 L913.6,381.5" stroke="#4a4a4a" stroke-width="1.0" fill="none" stroke-linecap="butt"/>
<text class="cap" x="840" y="475.1" textLength="34.8" lengthAdjust="spacingAndGlyphs">ANALOG</text>
<rect x="738.7" y="487" width="218.5" height="412" stroke="#111" stroke-width="1.6" fill="none" stroke-linejoin="miter"/>
<path d="M823,507 L830.5,511.5 L861.7,493.6 L893.7,513 L901,510 L901,680 L893.7,678 L861.7,664 L830.5,677.5 L823,679 Z" stroke="none" stroke-width="0.1" fill="#fff" />
<line x1="823" y1="507" x2="823" y2="679" stroke="#555" stroke-width="1.0" stroke-dasharray="18 5.5 1.2 5.5 1.2 5.5"/>
<line x1="830.5" y1="511.5" x2="830.5" y2="677.5" stroke="#555" stroke-width="1.0" stroke-dasharray="19 7 1.2 5 1.2 7" stroke-dashoffset="-1"/>
<path d="M823,507 L824.2,505 L830.5,511.5" stroke="#555" stroke-width="1.0" fill="none" />
<path d="M823,679 L830.5,677.5" stroke="#555" stroke-width="1.0" fill="none" />
<line x1="893.7" y1="513" x2="893.7" y2="678" stroke="#555" stroke-width="1.0" stroke-dasharray="14 6 1.2 5.5 1.2 6"/>
<line x1="901" y1="510" x2="901" y2="680" stroke="#555" stroke-width="1.0" stroke-dasharray="13 6.5 1.2 5 1.2 6.5" stroke-dashoffset="-2"/>
<path d="M893.7,513 L900,507 L901,510" stroke="#555" stroke-width="1.0" fill="none" />
<path d="M893.7,678 L901,680" stroke="#555" stroke-width="1.0" fill="none" />
<path d="M861.7,493.6 L830.5,511.5" stroke="#555" stroke-width="1.0" fill="none" stroke-dasharray="19 6 1.2 5.5 1.2 40"/>
<path d="M861.7,493.6 L893.7,513" stroke="#555" stroke-width="1.0" fill="none" stroke-dasharray="0 5 1.2 5.5 1.2 6 40 0"/>
<line x1="861.7" y1="493.6" x2="861.7" y2="664" stroke="#555" stroke-width="1.0" stroke-dasharray="17 6 1.2 5 1.2 6"/>
<path d="M861.7,664 L830.5,677.5" stroke="#555" stroke-width="1.0" fill="none" stroke-dasharray="13 5 1.2 5 1.2 40"/>
<path d="M861.7,664 L893.7,678" stroke="#555" stroke-width="1.0" fill="none" stroke-dasharray="13 5 1.2 5 1.2 40"/>
<ellipse cx="836" cy="518.0" rx="0.6" ry="0.6" stroke="#555" stroke-width="0.3" fill="#555" />
<ellipse cx="844.5" cy="514.3" rx="0.6" ry="0.6" stroke="#555" stroke-width="0.3" fill="#555" />
<ellipse cx="853" cy="510.5" rx="0.6" ry="0.6" stroke="#555" stroke-width="0.3" fill="#555" />
<ellipse cx="836" cy="546.0" rx="0.6" ry="0.6" stroke="#555" stroke-width="0.3" fill="#555" />
<ellipse cx="844.5" cy="542.3" rx="0.6" ry="0.6" stroke="#555" stroke-width="0.3" fill="#555" />
<ellipse cx="853" cy="538.5" rx="0.6" ry="0.6" stroke="#555" stroke-width="0.3" fill="#555" />
<ellipse cx="836" cy="580.0" rx="0.6" ry="0.6" stroke="#555" stroke-width="0.3" fill="#555" />
<ellipse cx="844.5" cy="576.3" rx="0.6" ry="0.6" stroke="#555" stroke-width="0.3" fill="#555" />
<ellipse cx="853" cy="572.5" rx="0.6" ry="0.6" stroke="#555" stroke-width="0.3" fill="#555" />
<ellipse cx="836" cy="598.0" rx="0.6" ry="0.6" stroke="#555" stroke-width="0.3" fill="#555" />
<ellipse cx="844.5" cy="594.3" rx="0.6" ry="0.6" stroke="#555" stroke-width="0.3" fill="#555" />
<ellipse cx="853" cy="590.5" rx="0.6" ry="0.6" stroke="#555" stroke-width="0.3" fill="#555" />
<ellipse cx="836" cy="626.0" rx="0.6" ry="0.6" stroke="#555" stroke-width="0.3" fill="#555" />
<ellipse cx="844.5" cy="622.3" rx="0.6" ry="0.6" stroke="#555" stroke-width="0.3" fill="#555" />
<ellipse cx="853" cy="618.5" rx="0.6" ry="0.6" stroke="#555" stroke-width="0.3" fill="#555" />
<ellipse cx="836" cy="646.0" rx="0.6" ry="0.6" stroke="#555" stroke-width="0.3" fill="#555" />
<ellipse cx="844.5" cy="642.3" rx="0.6" ry="0.6" stroke="#555" stroke-width="0.3" fill="#555" />
<ellipse cx="853" cy="638.5" rx="0.6" ry="0.6" stroke="#555" stroke-width="0.3" fill="#555" />
<ellipse cx="831" cy="536" rx="0.6" ry="0.6" stroke="#555" stroke-width="0.3" fill="#555" />
<ellipse cx="831" cy="542" rx="0.6" ry="0.6" stroke="#555" stroke-width="0.3" fill="#555" />
<ellipse cx="831" cy="584" rx="0.6" ry="0.6" stroke="#555" stroke-width="0.3" fill="#555" />
<ellipse cx="831" cy="632" rx="0.6" ry="0.6" stroke="#555" stroke-width="0.3" fill="#555" />
<ellipse cx="870" cy="502.0" rx="0.6" ry="0.6" stroke="#555" stroke-width="0.3" fill="#555" />
<ellipse cx="879" cy="506.0" rx="0.6" ry="0.6" stroke="#555" stroke-width="0.3" fill="#555" />
<ellipse cx="888" cy="509.9" rx="0.6" ry="0.6" stroke="#555" stroke-width="0.3" fill="#555" />
<ellipse cx="870" cy="526.0" rx="0.6" ry="0.6" stroke="#555" stroke-width="0.3" fill="#555" />
<ellipse cx="879" cy="530.0" rx="0.6" ry="0.6" stroke="#555" stroke-width="0.3" fill="#555" />
<ellipse cx="888" cy="533.9" rx="0.6" ry="0.6" stroke="#555" stroke-width="0.3" fill="#555" />
<ellipse cx="870" cy="556.0" rx="0.6" ry="0.6" stroke="#555" stroke-width="0.3" fill="#555" />
<ellipse cx="879" cy="560.0" rx="0.6" ry="0.6" stroke="#555" stroke-width="0.3" fill="#555" />
<ellipse cx="888" cy="563.9" rx="0.6" ry="0.6" stroke="#555" stroke-width="0.3" fill="#555" />
<ellipse cx="870" cy="584.0" rx="0.6" ry="0.6" stroke="#555" stroke-width="0.3" fill="#555" />
<ellipse cx="879" cy="588.0" rx="0.6" ry="0.6" stroke="#555" stroke-width="0.3" fill="#555" />
<ellipse cx="888" cy="591.9" rx="0.6" ry="0.6" stroke="#555" stroke-width="0.3" fill="#555" />
<ellipse cx="870" cy="612.0" rx="0.6" ry="0.6" stroke="#555" stroke-width="0.3" fill="#555" />
<ellipse cx="879" cy="616.0" rx="0.6" ry="0.6" stroke="#555" stroke-width="0.3" fill="#555" />
<ellipse cx="888" cy="619.9" rx="0.6" ry="0.6" stroke="#555" stroke-width="0.3" fill="#555" />
<ellipse cx="870" cy="634.0" rx="0.6" ry="0.6" stroke="#555" stroke-width="0.3" fill="#555" />
<ellipse cx="879" cy="638.0" rx="0.6" ry="0.6" stroke="#555" stroke-width="0.3" fill="#555" />
<ellipse cx="888" cy="641.9" rx="0.6" ry="0.6" stroke="#555" stroke-width="0.3" fill="#555" />
<line x1="823" y1="629" x2="823" y2="679" stroke="#555" stroke-width="1.0" />
<line x1="830.5" y1="621" x2="830.5" y2="677.5" stroke="#555" stroke-width="1.0" />
<line x1="893.7" y1="630" x2="893.7" y2="678" stroke="#555" stroke-width="1.0" />
<line x1="901" y1="624" x2="901" y2="680" stroke="#555" stroke-width="1.0" />
<path d="M823,636 L830.5,638.6 L830.5,645.6 L823,643 Z" stroke="#555" stroke-width="0.9" fill="#fff" />
<path d="M893.7,640 L901,637.2 L901,643.4 L893.7,646.2 Z" stroke="#555" stroke-width="0.9" fill="#fff" />
<ellipse cx="825" cy="648" rx="0.5" ry="0.5" stroke="#555" stroke-width="0.3" fill="#555" />
<ellipse cx="899" cy="641" rx="0.5" ry="0.5" stroke="#555" stroke-width="0.3" fill="#555" />
<path d="M823,660 L830.5,662.6 L830.5,669.6 L823,667 Z" stroke="#555" stroke-width="0.9" fill="#fff" />
<path d="M893.7,664 L901,661.2 L901,667.4 L893.7,670.2 Z" stroke="#555" stroke-width="0.9" fill="#fff" />
<ellipse cx="825" cy="672" rx="0.5" ry="0.5" stroke="#555" stroke-width="0.3" fill="#555" />
<ellipse cx="899" cy="665" rx="0.5" ry="0.5" stroke="#555" stroke-width="0.3" fill="#555" />
<ellipse cx="873" cy="573" rx="3.0" ry="4.3" stroke="#555" stroke-width="0.9" fill="none" transform="rotate(-15 873 573)"/>
<ellipse cx="873" cy="618.5" rx="3.0" ry="4.3" stroke="#555" stroke-width="0.9" fill="none" transform="rotate(-15 873 618.5)"/>
<ellipse cx="856" cy="543" rx="1.0" ry="1.4" stroke="#555" stroke-width="0.7" fill="none" />
<path d="M769.9,519.4 L773.4,516.6 L777.9,518.6 L776.0,520.4 L776.0,529.7 L773.9,530.6 L769.9,527.9 Z" stroke="#222" stroke-width="1.1" fill="#fff" />
<path d="M770.6,520.4 L770.6,527.4 M772.2,519.4 L772.2,528.9 M774.0,519.6 L774.0,529.9" stroke="#222" stroke-width="1.1" fill="none" />
<path d="M773.4,516.6 L775.4,515.0 L779.4,517.0 L777.9,518.6" stroke="#222" stroke-width="1.0" fill="#555" />
<path d="M776.0,520.4 L785.3,514.7 L799.8,522.5 L799.3,532.3 L787.9,537.5 L776.0,529.7 Z" stroke="#222" stroke-width="1.3" fill="#fff" />
<path d="M776.0,520.4 L788.4,528.5 L799.8,522.5 M788.4,528.5 L787.9,537.5" stroke="#222" stroke-width="1.2" fill="none" />
<path d="M781.4,520.7 L786.9,517.4 L795.4,522.4 L789.4,525.7 Z" stroke="#333" stroke-width="0.7" fill="#b5b5b5" />
<path d="M784.4,520.9 L790.4,524.4 M786.4,519.4 L792.9,523.0 M788.4,518.6 L793.9,521.8" stroke="#333" stroke-width="0.9" fill="none" />
<path d="M791.4,529.6 L796.9,526.8 L796.7,531.4 L791.2,534.2 Z" stroke="#666" stroke-width="0.6" fill="#e4e4e4" />
<path d="M792.6,530.4 L792.6,532.4 M795.0,529.0 L795.0,531.2" stroke="#222" stroke-width="1.1" fill="none" />
<path d="M788.6,574.2 L802.1,565.2 L814.1,571.2 L814.1,574.7 L800.9,583.7 L788.6,576.8 Z" stroke="#222" stroke-width="1.3" fill="#fff" />
<path d="M788.6,574.2 L800.9,580.7 L814.1,571.2 M800.9,580.7 L800.9,583.7" stroke="#222" stroke-width="1.1" fill="none" />
<path d="M791.4,575.7 L800.9,582.0 L811.4,574.7" stroke="#666" stroke-width="0.6" fill="none" />
<path d="M794.9,568.8 L803.3,563.4 L811.1,567.0 L811.1,570.2 L802.1,576.2 L794.9,571.4 Z" stroke="#222" stroke-width="1.3" fill="#fff" />
<path d="M794.9,568.8 L802.1,573.0 L811.1,567.0 M802.1,573.0 L802.1,576.2" stroke="#222" stroke-width="1.1" fill="none" />
<path d="M804.9,567.4 L808.4,569.0 M803.6,568.4 L807.0,570.0" stroke="#333" stroke-width="1.2" fill="none" />
<line x1="790.0" y1="576.4" x2="789.0" y2="578.2" stroke="#222" stroke-width="1.2" />
<g transform="translate(792.9 592.2) scale(1.020)">
<line x1="1.1" y1="7.2" x2="1.1" y2="16.4" stroke="#222" stroke-width="1.3" />
<path d="M0,16.4 L2.4,15.4 L2.4,17 L0.4,18 Z" stroke="#222" stroke-width="0.8" fill="#222" />
<path d="M0.7,6.1 L10.4,1.4 L11,3 L1.6,7.8 Z" stroke="#222" stroke-width="1.0" fill="#fff" />
<path d="M0.7,6.1 L10.4,1.4" stroke="#1e1e1e" stroke-width="1.9" fill="none" />
<path d="M7.2,6.8 L14.4,2.9 L19.8,6.5 L19.8,15.8 L13,19.8 L7.2,16.5 Z" stroke="#222" stroke-width="1.3" fill="#fff" />
<path d="M7.2,6.8 L13,10.8 L19.8,6.5 M13,10.8 L13,19.8" stroke="#222" stroke-width="1.2" fill="none" />
<path d="M9,5.9 L15.3,3.6 M10.8,7.2 L17.2,4.8" stroke="#222" stroke-width="1.5" fill="none" />
<path d="M8.6,9.4 L8.6,16.6 M10.6,10.6 L10.6,18 M15.2,11.3 L15.2,17.6 M17.4,9.8 L17.4,16.2" stroke="#222" stroke-width="1.4" fill="none" />
<rect x="8.9" y="11.2" width="1.6" height="4" stroke="#222" stroke-width="0.3" fill="#555" />
<rect x="15.5" y="12" width="1.6" height="3.6" stroke="#222" stroke-width="0.3" fill="#555" />
<path d="M17.2,17 L19.8,15.6 L19.8,17.4 L17.6,18.6 Z" stroke="#222" stroke-width="0.8" fill="#222" />
<path d="M4,14 L7.2,15.5" stroke="#222" stroke-width="1.2" fill="none" />
</g>
<line x1="781" y1="614.8" x2="781" y2="623.4" stroke="#222" stroke-width="2.4" />
<line x1="781" y1="616.3" x2="781" y2="621.9" stroke="#ccc" stroke-width="0.8" />
<g transform="translate(797.4 630) scale(1.031)">
<path d="M3.6,1.2 L6.6,0 L14.6,4.4 L16.1,7.2 L16.1,12.6 L11.6,15.1 L2.6,10.6 Z" stroke="#222" stroke-width="1.2" fill="#fff" />
<path d="M6.6,0 L7.8,3.6 L11.4,13.8 M7.8,3.6 L14.6,4.4" stroke="#222" stroke-width="1.0" fill="none" />
<path d="M11.8,6.2 L15.4,6 L15.6,12.2 L12.4,14.2 Z" stroke="#222" stroke-width="0.8" fill="#3a3a3a" />
<line x1="13.6" y1="8" x2="13.8" y2="11.8" stroke="#ccc" stroke-width="0.7" />
<ellipse cx="3.5" cy="6.4" rx="1.9" ry="4.2" stroke="#222" stroke-width="1.2" fill="#fff" transform="rotate(-14 3.5 6.4)"/>
<ellipse cx="3.9" cy="6.3" rx="0.9" ry="2.6" stroke="#222" stroke-width="0.7" fill="#999" transform="rotate(-14 3.9 6.3)"/>
<line x1="0" y1="4.4" x2="2" y2="5" stroke="#222" stroke-width="1.2" />
</g>
<g transform="translate(775 632.8) scale(1.000)">
<path d="M0.6,5.2 L8.6,0.4 L12.2,1.6 L14,0.8 L21.9,6.6 L21.9,18.4 L11.4,24.1 L0.6,17.2 Z" stroke="#222" stroke-width="1.3" fill="#fff" />
<path d="M0.6,5.2 L11.6,11.6 L21.9,6.6 M11.6,11.6 L11.4,24.1" stroke="#222" stroke-width="1.2" fill="none" />
<path d="M5.4,4.6 L12.6,1.8 L19.2,6.4 L12,9.6 Z" stroke="#222" stroke-width="0.7" fill="#2e2e2e" />
<path d="M7.6,4.2 L14.2,8.2 M10,3.2 L16.6,7.2" stroke="#ddd" stroke-width="0.8" fill="none" />
<path d="M2.2,7.4 L2.2,17.2 M4.6,8.8 L4.6,18.8 M8.6,11.2 L8.6,21.4" stroke="#222" stroke-width="1.4" fill="none" />
<rect x="2.6" y="10" width="1.8" height="5.6" stroke="#222" stroke-width="0.3" fill="#444" />
<rect x="5.2" y="11.6" width="2.6" height="6" stroke="#222" stroke-width="0.3" fill="#444" />
<path d="M0.6,12 L11.5,18.2" stroke="#222" stroke-width="1.0" fill="none" />
<path d="M14.4,12.2 L14.4,16 M17.4,10.8 L17.4,14.4 M14.4,18.4 L14.4,20.8 M17.4,16.8 L17.4,19.2" stroke="#333" stroke-width="1.3" fill="none" />
<path d="M11.5,16.8 L21.9,11.6" stroke="#555" stroke-width="0.8" fill="none" />
</g>
<path d="M785.3,664.4 L785.3,686.8 Q785.5999999999999,691.3 794.9,691.3 Q804.2,691.3 804.5,686.8 L804.5,664.4" stroke="#222" stroke-width="1.4" fill="#fff" />
<ellipse cx="794.9" cy="664.4" rx="9.6" ry="4.6" stroke="#222" stroke-width="1.5" fill="#fff" />
<ellipse cx="795.1999999999999" cy="664.0" rx="5.4" ry="3.0" stroke="#222" stroke-width="0.8" fill="#2c2c2c" transform="rotate(-8 794.9 664.0)"/>
<path d="M791.9,663.4 L793.9,664.8 M795.9,662.4 L798.3,663.4 M794.4,663.1999999999999 L795.9,665.1999999999999" stroke="#e8e8e8" stroke-width="0.9" fill="none" />
<path d="M912,540.0 L917,536.5 L924,538.5 L924,545.5 L918.5,548.5 L912,546.5 Z" stroke="#222" stroke-width="1.0" fill="#fff" />
<path d="M912,540.0 L918.5,542.0 L924,538.5 M918.5,542.0 L918.5,548.5" stroke="#222" stroke-width="1.0" fill="none" />
<line x1="806.6" y1="694.8" x2="806.6" y2="876.3" stroke="#555" stroke-width="1.0" stroke-dasharray="17 5.5 1.2 5 1.2 5.5" stroke-dashoffset="-4"/>
<line x1="889.5" y1="694.8" x2="889.5" y2="876.3" stroke="#555" stroke-width="1.0" stroke-dasharray="17 5.5 1.2 5 1.2 5.5" stroke-dashoffset="-4"/>
<line x1="834.4" y1="694.8" x2="834.4" y2="876.3" stroke="#555" stroke-width="1.0" stroke-dasharray="17 5.5 1.2 5 1.2 5.5" stroke-dashoffset="-4"/>
<line x1="863" y1="694.8" x2="863" y2="876.3" stroke="#555" stroke-width="1.0" stroke-dasharray="17 5.5 1.2 5 1.2 5.5" stroke-dashoffset="-4"/>
<line x1="806.6" y1="694.8" x2="889.5" y2="694.8" stroke="#555" stroke-width="1.0" stroke-dasharray="16 5 1.2 5 1.2 5"/>
<line x1="806.6" y1="876.3" x2="889.5" y2="876.3" stroke="#555" stroke-width="1.0" stroke-dasharray="16 5 1.2 5 1.2 5"/>
<line x1="808.4" y1="698" x2="808.4" y2="874" stroke="#555" stroke-width="0.7" stroke-dasharray="17 5.5 1.2 5 1.2 5.5" stroke-dashoffset="-7"/>
<line x1="887.7" y1="698" x2="887.7" y2="874" stroke="#555" stroke-width="0.7" stroke-dasharray="17 5.5 1.2 5 1.2 5.5" stroke-dashoffset="-7"/>
<path d="M810.5,695.5 L810.5,698.5 L812.5,698.5 L812.5,695.5" stroke="#555" stroke-width="0.7" fill="none" />
<path d="M819.5,695.5 L819.5,698.5 L821.5,698.5 L821.5,695.5" stroke="#555" stroke-width="0.7" fill="none" />
<path d="M875.5,695.5 L875.5,698.5 L877.5,698.5 L877.5,695.5" stroke="#555" stroke-width="0.7" fill="none" />
<path d="M883.5,695.5 L883.5,698.5 L885.5,698.5 L885.5,695.5" stroke="#555" stroke-width="0.7" fill="none" />
<ellipse cx="848.7" cy="697.2" rx="1.1" ry="1.1" stroke="#555" stroke-width="0.7" fill="none" />
<ellipse cx="812.5" cy="873.5" rx="0.6" ry="0.6" stroke="#555" stroke-width="0.4" fill="#555" />
<ellipse cx="886.5" cy="873.5" rx="0.6" ry="0.6" stroke="#555" stroke-width="0.4" fill="#555" />
<ellipse cx="840.4" cy="772.3" rx="1.2" ry="1.2" stroke="#555" stroke-width="0.7" fill="none" />
<ellipse cx="848.6999999999999" cy="772.3" rx="1.2" ry="1.2" stroke="#555" stroke-width="0.7" fill="none" />
<ellipse cx="857.0" cy="772.3" rx="1.2" ry="1.2" stroke="#555" stroke-width="0.7" fill="none" />
<ellipse cx="840.4" cy="778.8" rx="1.2" ry="1.2" stroke="#555" stroke-width="0.7" fill="none" />
<ellipse cx="848.6999999999999" cy="778.8" rx="1.2" ry="1.2" stroke="#555" stroke-width="0.7" fill="none" />
<ellipse cx="857.0" cy="778.8" rx="1.2" ry="1.2" stroke="#555" stroke-width="0.7" fill="none" />
<ellipse cx="848.7" cy="745.5" rx="1.3" ry="1.3" stroke="#555" stroke-width="0.7" fill="none" />
<rect x="833.6" y="718.2" width="31.2" height="25.5" stroke="#222" stroke-width="1.5" fill="#fff" rx="2.5"/>
<rect x="836.3" y="721.0999999999999" width="1.4" height="1.4" stroke="#222" stroke-width="0.3" fill="#222" />
<rect x="860.3" y="721.0999999999999" width="1.4" height="1.4" stroke="#222" stroke-width="0.3" fill="#222" />
<rect x="836.3" y="736.8" width="1.4" height="1.4" stroke="#222" stroke-width="0.3" fill="#222" />
<rect x="860.3" y="736.8" width="1.4" height="1.4" stroke="#222" stroke-width="0.3" fill="#222" />
<rect x="841" y="734.5" width="8.5" height="1.2" stroke="#222" stroke-width="0.2" fill="#333" />
<rect x="841" y="737" width="14.5" height="1.4" stroke="#222" stroke-width="0.2" fill="#333" />
<rect x="834.5" y="740.3" width="9.5" height="2.6" stroke="#222" stroke-width="0.3" fill="#333" />
<text class="lj" x="757.7" y="503.1" textLength="15.6" lengthAdjust="spacingAndGlyphs">17-J</text>
<path d="M773.9,500.2 L779,500.2 L785,514.4" stroke="#4a4a4a" stroke-width="1.0" fill="none" stroke-linecap="butt"/>
<text class="lj" x="753.8" y="544.1" textLength="13.0" lengthAdjust="spacingAndGlyphs">2-J</text>
<path d="M767.4,541.2 L773.5,541.2 L796.7,565" stroke="#4a4a4a" stroke-width="1.0" fill="none" stroke-linecap="butt"/>
<text class="lj" x="753.8" y="572.6" textLength="10.4" lengthAdjust="spacingAndGlyphs">1-J</text>
<path d="M764.8,569.7 L771,569.7 L795.4,597.6" stroke="#4a4a4a" stroke-width="1.0" fill="none" stroke-linecap="butt"/>
<text class="lj" x="755" y="591.6" textLength="13" lengthAdjust="spacingAndGlyphs">3-J</text>
<path d="M768.6,588.7 L775.5,588.7 L803.2,631.4" stroke="#4a4a4a" stroke-width="1.0" fill="none" stroke-linecap="butt"/>
<text class="lj" x="749.4" y="607.1" textLength="12.2" lengthAdjust="spacingAndGlyphs">7-J</text>
<path d="M762.2,604.2 L768.5,604.2 L780.3,615.5" stroke="#4a4a4a" stroke-width="1.0" fill="none" stroke-linecap="butt"/>
<text class="lj" x="748" y="630.6" textLength="12.8" lengthAdjust="spacingAndGlyphs">4-J</text>
<path d="M761.4,627.7 L767.5,627.7 L777.7,636.6" stroke="#4a4a4a" stroke-width="1.0" fill="none" stroke-linecap="butt"/>
<text class="lj" x="932.7" y="500.6" textLength="15.6" lengthAdjust="spacingAndGlyphs">18-J</text>
<path d="M932.1,497.7 L926.8,497.7 L919,537.3" stroke="#4a4a4a" stroke-width="1.0" fill="none" stroke-linecap="butt"/>
<text class="lj" x="754.6" y="711.7" textLength="13.0" lengthAdjust="spacingAndGlyphs">5-J</text>
<path d="M768.2,708.8 Q771.5,708.5 773,706 L785,685" stroke="#4a4a4a" stroke-width="1.0" fill="none" />
<text class="lj" x="772.8" y="755.4" textLength="12.2" lengthAdjust="spacingAndGlyphs">6-J</text>
<path d="M785.6,752.5 L790,752.5 Q794,752.3 798,750.3 L833.6,732" stroke="#4a4a4a" stroke-width="1.0" fill="none" />
<text class="cap" x="828.7" y="892.6" textLength="39.6" lengthAdjust="spacingAndGlyphs">DIGITAL</text>
</svg>
</body></html>
